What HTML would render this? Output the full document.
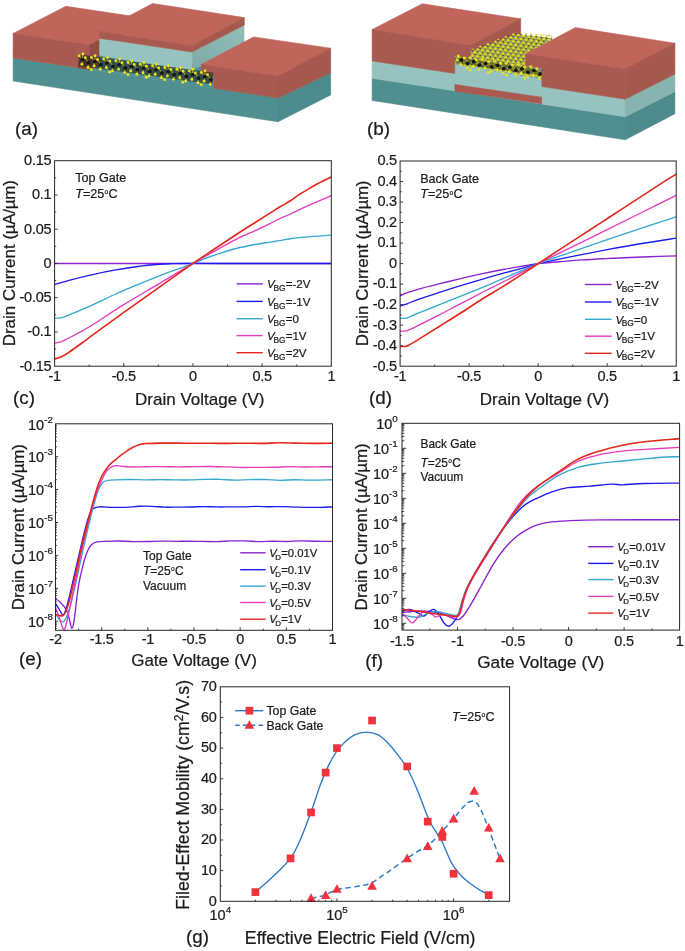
<!DOCTYPE html>
<html lang="en">
<head>
<meta charset="utf-8">
<title>Top-gate and back-gate MoS2 transistor characteristics</title>
<style>
html,body{margin:0;padding:0;background:#fff;}
body{width:685px;height:951px;overflow:hidden;}
svg{display:block;font-family:'Liberation Sans', Arial, Helvetica, sans-serif;filter:blur(0.3px);}
svg text{white-space:pre;stroke:#1a1a1a;stroke-width:.22px;stroke-linejoin:round;}
</style>
</head>
<body>
<svg width="685" height="951" viewBox="0 0 685 951" role="img" aria-label="Device schematics and electrical characteristics of top-gate and back-gate transistors">
<rect width="685" height="951" fill="#ffffff"/>
<g id="schem-a">
<polygon points="13.1,57.9 278,97.9 278,121.8 13.1,81" fill="#4f8f90" stroke="#4f8f90" stroke-width="0.6" stroke-linejoin="round" />
<polygon points="278,97.9 330.7,72.8 330.7,94.9 278,121.8" fill="#4c8a8b" stroke="#4c8a8b" stroke-width="0.6" stroke-linejoin="round" />
<polygon points="78,67.6 213.6,88.2 213.6,68 78,50" fill="#4f8f90" stroke="#4f8f90" stroke-width="0.6" stroke-linejoin="round" />
<polygon points="13.1,33.4 65.8,6.3 152.6,19.3 99.7,46.6" fill="#bf655a" stroke="#bf655a" stroke-width="0.6" stroke-linejoin="round" />
<polygon points="13.1,33.4 89.9,45.1 89.9,69.4 13.1,57.9" fill="#a95a50" stroke="#a95a50" stroke-width="0.6" stroke-linejoin="round" />
<polygon points="89.9,45.1 99.7,39.9 99.7,66 89.9,69.4" fill="#934c44" stroke="#934c44" stroke-width="0.6" stroke-linejoin="round" />
<polygon points="78.4,55.2 89.9,56.8 89.9,69.4 78.4,67.7" fill="#7d4139" stroke="#7d4139" stroke-width="0.6" stroke-linejoin="round" />
<polygon points="99.7,38.2 192.1,52 192.1,70.6 99.7,55.6" fill="#96c3bf" stroke="#96c3bf" stroke-width="0.6" stroke-linejoin="round" />
<linearGradient id="gds" x1="0" y1="1" x2="1" y2="0"><stop offset="0" stop-color="#7ea8a4"/><stop offset="1" stop-color="#93bfbb"/></linearGradient>
<polygon points="192.1,52 244.3,25.1 244.3,43 192.1,70.6" fill="url(#gds)" />
<polygon points="99.7,31.4 152.6,3.5 244.3,17.6 192.1,45.7" fill="#bf655a" stroke="#bf655a" stroke-width="0.6" stroke-linejoin="round" />
<polygon points="99.7,31.4 192.1,45.7 192.1,52 99.7,38.2" fill="#a95a50" stroke="#a95a50" stroke-width="0.6" stroke-linejoin="round" />
<polygon points="192.1,45.7 244.3,17.6 244.3,25.1 192.1,52" fill="#a5584e" stroke="#a5584e" stroke-width="0.6" stroke-linejoin="round" />
<polygon points="201.4,64.4 253.6,36.9 330.7,48.2 278,76.1" fill="#bf655a" stroke="#bf655a" stroke-width="0.6" stroke-linejoin="round" />
<polygon points="201.4,64.4 278,76.1 278,97.9 213.6,88.2 213.6,75.4 201.4,73.6" fill="#a95a50" stroke="#a95a50" stroke-width="0.6" stroke-linejoin="round" />
<polygon points="278,76.1 330.7,48.2 330.7,72.8 278,97.9" fill="#a5584e" stroke="#a5584e" stroke-width="0.6" stroke-linejoin="round" />
<path d="M79.5 60.09L212.8 78.48" stroke="#262a1c" stroke-width="11.5" opacity="0.62" fill="none"/>
<path d="M79.2 55.7L82.5 59.7L81.9 64.3M82.9 54L82.5 59.7M85.31 57.74L88.61 62.94L88.01 67.54M88.01 67.54L91.31 69.64M91.42 57.39L94.72 61.39L94.12 65.99M95.12 55.69L94.72 61.39M97.53 59.43L100.83 64.63L100.23 69.23M103.64 59.07L106.94 63.07L106.34 67.67M107.34 57.37L106.94 63.07M106.34 67.67L109.64 72.17M109.75 61.11L113.05 66.31L112.45 70.91M115.86 60.76L119.16 64.76L118.56 69.36M119.56 59.06L119.16 64.76M121.97 62.8L125.27 68L124.67 72.6M124.67 72.6L127.97 74.7M128.08 62.44L131.38 66.44L130.78 71.04M131.78 60.74L131.38 66.44M134.19 64.49L137.49 69.69L136.89 74.29M140.3 64.13L143.6 68.13L143 72.73M144 62.43L143.6 68.13M143 72.73L146.3 77.23M146.4 66.17L149.7 71.37L149.1 75.97M152.51 65.81L155.81 69.81L155.21 74.41M156.21 64.11L155.81 69.81M158.62 67.86L161.92 73.06L161.32 77.66M161.32 77.66L164.62 79.76M164.73 67.5L168.03 71.5L167.43 76.1M168.43 65.8L168.03 71.5M170.84 69.54L174.14 74.74L173.54 79.34M176.95 69.19L180.25 73.19L179.65 77.79M180.65 67.49L180.25 73.19M179.65 77.79L182.95 82.29M183.06 71.23L186.36 76.43L185.76 81.03M189.17 70.87L192.47 74.87L191.87 79.47M192.87 69.17L192.47 74.87M195.28 72.91L198.58 78.11L197.98 82.71M197.98 82.71L201.28 84.81M201.39 72.56L204.69 76.56L204.09 81.16M205.09 70.86L204.69 76.56M207.5 74.6L210.8 79.8L210.2 84.4" stroke="#b9b420" stroke-width="0.9" fill="none"/>
<g fill="#161616"><circle cx="82.5" cy="59.7" r="1.9"/><circle cx="88.61" cy="62.94" r="1.9"/><circle cx="94.72" cy="61.39" r="1.9"/><circle cx="100.83" cy="64.63" r="1.9"/><circle cx="106.94" cy="63.07" r="1.9"/><circle cx="113.05" cy="66.31" r="1.9"/><circle cx="119.16" cy="64.76" r="1.9"/><circle cx="125.27" cy="68" r="1.9"/><circle cx="131.38" cy="66.44" r="1.9"/><circle cx="137.49" cy="69.69" r="1.9"/><circle cx="143.6" cy="68.13" r="1.9"/><circle cx="149.7" cy="71.37" r="1.9"/><circle cx="155.81" cy="69.81" r="1.9"/><circle cx="161.92" cy="73.06" r="1.9"/><circle cx="168.03" cy="71.5" r="1.9"/><circle cx="174.14" cy="74.74" r="1.9"/><circle cx="180.25" cy="73.19" r="1.9"/><circle cx="186.36" cy="76.43" r="1.9"/><circle cx="192.47" cy="74.87" r="1.9"/><circle cx="198.58" cy="78.11" r="1.9"/><circle cx="204.69" cy="76.56" r="1.9"/><circle cx="210.8" cy="79.8" r="1.9"/></g>
<g fill="#e8e224"><circle cx="79.2" cy="55.7" r="1.45"/><circle cx="81.9" cy="64.3" r="1.45"/><circle cx="82.9" cy="54" r="1.45"/><circle cx="85.31" cy="57.74" r="1.45"/><circle cx="88.01" cy="67.54" r="1.45"/><circle cx="91.31" cy="69.64" r="1.45"/><circle cx="91.42" cy="57.39" r="1.45"/><circle cx="94.12" cy="65.99" r="1.45"/><circle cx="95.12" cy="55.69" r="1.45"/><circle cx="97.53" cy="59.43" r="1.45"/><circle cx="100.23" cy="69.23" r="1.45"/><circle cx="103.64" cy="59.07" r="1.45"/><circle cx="106.34" cy="67.67" r="1.45"/><circle cx="107.34" cy="57.37" r="1.45"/><circle cx="109.64" cy="72.17" r="1.45"/><circle cx="109.75" cy="61.11" r="1.45"/><circle cx="112.45" cy="70.91" r="1.45"/><circle cx="115.86" cy="60.76" r="1.45"/><circle cx="118.56" cy="69.36" r="1.45"/><circle cx="119.56" cy="59.06" r="1.45"/><circle cx="121.97" cy="62.8" r="1.45"/><circle cx="124.67" cy="72.6" r="1.45"/><circle cx="127.97" cy="74.7" r="1.45"/><circle cx="128.08" cy="62.44" r="1.45"/><circle cx="130.78" cy="71.04" r="1.45"/><circle cx="131.78" cy="60.74" r="1.45"/><circle cx="134.19" cy="64.49" r="1.45"/><circle cx="136.89" cy="74.29" r="1.45"/><circle cx="140.3" cy="64.13" r="1.45"/><circle cx="143" cy="72.73" r="1.45"/><circle cx="144" cy="62.43" r="1.45"/><circle cx="146.3" cy="77.23" r="1.45"/><circle cx="146.4" cy="66.17" r="1.45"/><circle cx="149.1" cy="75.97" r="1.45"/><circle cx="152.51" cy="65.81" r="1.45"/><circle cx="155.21" cy="74.41" r="1.45"/><circle cx="156.21" cy="64.11" r="1.45"/><circle cx="158.62" cy="67.86" r="1.45"/><circle cx="161.32" cy="77.66" r="1.45"/><circle cx="164.62" cy="79.76" r="1.45"/><circle cx="164.73" cy="67.5" r="1.45"/><circle cx="167.43" cy="76.1" r="1.45"/><circle cx="168.43" cy="65.8" r="1.45"/><circle cx="170.84" cy="69.54" r="1.45"/><circle cx="173.54" cy="79.34" r="1.45"/><circle cx="176.95" cy="69.19" r="1.45"/><circle cx="179.65" cy="77.79" r="1.45"/><circle cx="180.65" cy="67.49" r="1.45"/><circle cx="182.95" cy="82.29" r="1.45"/><circle cx="183.06" cy="71.23" r="1.45"/><circle cx="185.76" cy="81.03" r="1.45"/><circle cx="189.17" cy="70.87" r="1.45"/><circle cx="191.87" cy="79.47" r="1.45"/><circle cx="192.87" cy="69.17" r="1.45"/><circle cx="195.28" cy="72.91" r="1.45"/><circle cx="197.98" cy="82.71" r="1.45"/><circle cx="201.28" cy="84.81" r="1.45"/><circle cx="201.39" cy="72.56" r="1.45"/><circle cx="204.09" cy="81.16" r="1.45"/><circle cx="205.09" cy="70.86" r="1.45"/><circle cx="207.5" cy="74.6" r="1.45"/><circle cx="210.2" cy="84.4" r="1.45"/></g>
</g>
<g id="schem-b">
<polygon points="372.1,78.3 625.2,116.7 625.2,139.8 372.1,100.4" fill="#4f8f90" stroke="#4f8f90" stroke-width="0.6" stroke-linejoin="round" />
<polygon points="625.2,116.7 674.9,91.6 674.9,113.8 625.2,139.8" fill="#4c8a8b" stroke="#4c8a8b" stroke-width="0.6" stroke-linejoin="round" />
<polygon points="372.1,61 454.7,73.4 454.7,62 541.9,75.2 541.9,86.6 625.2,99.2 625.2,116.7 372.1,78.3" fill="#96c3bf" stroke="#96c3bf" stroke-width="0.6" stroke-linejoin="round" />
<polygon points="454.7,62 520,37 600,45 541.9,75.2" fill="#a3cfca" stroke="#a3cfca" stroke-width="0.6" stroke-linejoin="round" />
<polygon points="625.2,99.2 674.9,74.1 674.9,91.6 625.2,116.7" fill="#89b3af" stroke="#89b3af" stroke-width="0.6" stroke-linejoin="round" />
<polygon points="454.9,84.6 541.6,97.2 541.6,103.8 454.9,91.2" fill="#a95a50" stroke="#a95a50" stroke-width="0.6" stroke-linejoin="round" />
<polygon points="372.1,29.6 422.3,3.8 520.7,18.8 470.5,45.2" fill="#bf655a" stroke="#bf655a" stroke-width="0.6" stroke-linejoin="round" />
<polygon points="470.5,45.2 520.7,18.8 520.7,36 470.5,60" fill="#a5584e" stroke="#a5584e" stroke-width="0.6" stroke-linejoin="round" />
<polygon points="454.7,55.5 470.5,57.5 470.5,66 454.7,63.5" fill="#7a4038" stroke="#7a4038" stroke-width="0.6" stroke-linejoin="round" />
<polygon points="455.6,57 516.5,34.6 549,37.6 552,39.2 525.6,54 525.6,66 541.8,72.4 541.8,78 455,63.5" fill="#a0a34c" />
<clipPath id="shb"><polygon points="455,55.6 516,32.2 551,35.2 555,38.2 525.6,54 525.6,66 541.8,72.4 541.8,79 455,64.5"/></clipPath>
<g clip-path="url(#shb)">
<g fill="#3a4048"><circle cx="457.2" cy="69.05" r="0.75"/><circle cx="462.3" cy="69.85" r="0.75"/><circle cx="467.4" cy="70.65" r="0.75"/><circle cx="472.5" cy="71.45" r="0.75"/><circle cx="477.6" cy="72.25" r="0.75"/><circle cx="482.7" cy="73.05" r="0.75"/><circle cx="487.8" cy="73.85" r="0.75"/><circle cx="492.9" cy="74.65" r="0.75"/><circle cx="498" cy="75.45" r="0.75"/><circle cx="503.1" cy="76.25" r="0.75"/><circle cx="508.2" cy="77.05" r="0.75"/><circle cx="513.3" cy="77.85" r="0.75"/><circle cx="518.4" cy="78.65" r="0.75"/><circle cx="523.5" cy="79.45" r="0.75"/><circle cx="528.6" cy="80.25" r="0.75"/><circle cx="533.7" cy="81.05" r="0.75"/><circle cx="538.8" cy="81.85" r="0.75"/><circle cx="543.9" cy="82.65" r="0.75"/><circle cx="454.65" cy="65.2" r="0.75"/><circle cx="459.75" cy="66" r="0.75"/><circle cx="464.85" cy="66.8" r="0.75"/><circle cx="469.95" cy="67.6" r="0.75"/><circle cx="475.05" cy="68.4" r="0.75"/><circle cx="480.15" cy="69.2" r="0.75"/><circle cx="485.25" cy="70" r="0.75"/><circle cx="490.35" cy="70.8" r="0.75"/><circle cx="495.45" cy="71.6" r="0.75"/><circle cx="500.55" cy="72.4" r="0.75"/><circle cx="505.65" cy="73.2" r="0.75"/><circle cx="510.75" cy="74" r="0.75"/><circle cx="515.85" cy="74.8" r="0.75"/><circle cx="520.95" cy="75.6" r="0.75"/><circle cx="526.05" cy="76.4" r="0.75"/><circle cx="531.15" cy="77.2" r="0.75"/><circle cx="536.25" cy="78" r="0.75"/><circle cx="541.35" cy="78.8" r="0.75"/><circle cx="546.45" cy="79.6" r="0.75"/><circle cx="551.55" cy="80.4" r="0.75"/><circle cx="556.65" cy="81.2" r="0.75"/><circle cx="457.2" cy="62.15" r="0.75"/><circle cx="462.3" cy="62.95" r="0.75"/><circle cx="467.4" cy="63.75" r="0.75"/><circle cx="472.5" cy="64.55" r="0.75"/><circle cx="477.6" cy="65.35" r="0.75"/><circle cx="482.7" cy="66.15" r="0.75"/><circle cx="487.8" cy="66.95" r="0.75"/><circle cx="492.9" cy="67.75" r="0.75"/><circle cx="498" cy="68.55" r="0.75"/><circle cx="503.1" cy="69.35" r="0.75"/><circle cx="508.2" cy="70.15" r="0.75"/><circle cx="513.3" cy="70.95" r="0.75"/><circle cx="518.4" cy="71.75" r="0.75"/><circle cx="523.5" cy="72.55" r="0.75"/><circle cx="528.6" cy="73.35" r="0.75"/><circle cx="533.7" cy="74.15" r="0.75"/><circle cx="538.8" cy="74.95" r="0.75"/><circle cx="543.9" cy="75.75" r="0.75"/><circle cx="549" cy="76.55" r="0.75"/><circle cx="554.1" cy="77.35" r="0.75"/><circle cx="559.2" cy="78.15" r="0.75"/><circle cx="454.65" cy="58.3" r="0.75"/><circle cx="459.75" cy="59.1" r="0.75"/><circle cx="464.85" cy="59.9" r="0.75"/><circle cx="469.95" cy="60.7" r="0.75"/><circle cx="475.05" cy="61.5" r="0.75"/><circle cx="480.15" cy="62.3" r="0.75"/><circle cx="485.25" cy="63.1" r="0.75"/><circle cx="490.35" cy="63.9" r="0.75"/><circle cx="495.45" cy="64.7" r="0.75"/><circle cx="500.55" cy="65.5" r="0.75"/><circle cx="505.65" cy="66.3" r="0.75"/><circle cx="510.75" cy="67.1" r="0.75"/><circle cx="515.85" cy="67.9" r="0.75"/><circle cx="520.95" cy="68.7" r="0.75"/><circle cx="526.05" cy="69.5" r="0.75"/><circle cx="531.15" cy="70.3" r="0.75"/><circle cx="536.25" cy="71.1" r="0.75"/><circle cx="541.35" cy="71.9" r="0.75"/><circle cx="546.45" cy="72.7" r="0.75"/><circle cx="551.55" cy="73.5" r="0.75"/><circle cx="556.65" cy="74.3" r="0.75"/><circle cx="457.2" cy="55.25" r="0.75"/><circle cx="462.3" cy="56.05" r="0.75"/><circle cx="467.4" cy="56.85" r="0.75"/><circle cx="472.5" cy="57.65" r="0.75"/><circle cx="477.6" cy="58.45" r="0.75"/><circle cx="482.7" cy="59.25" r="0.75"/><circle cx="487.8" cy="60.05" r="0.75"/><circle cx="492.9" cy="60.85" r="0.75"/><circle cx="498" cy="61.65" r="0.75"/><circle cx="503.1" cy="62.45" r="0.75"/><circle cx="508.2" cy="63.25" r="0.75"/><circle cx="513.3" cy="64.05" r="0.75"/><circle cx="518.4" cy="64.85" r="0.75"/><circle cx="523.5" cy="65.65" r="0.75"/><circle cx="528.6" cy="66.45" r="0.75"/><circle cx="533.7" cy="67.25" r="0.75"/><circle cx="538.8" cy="68.05" r="0.75"/><circle cx="543.9" cy="68.85" r="0.75"/><circle cx="549" cy="69.65" r="0.75"/><circle cx="554.1" cy="70.45" r="0.75"/><circle cx="559.2" cy="71.25" r="0.75"/><circle cx="454.65" cy="51.4" r="0.75"/><circle cx="459.75" cy="52.2" r="0.75"/><circle cx="464.85" cy="53" r="0.75"/><circle cx="469.95" cy="53.8" r="0.75"/><circle cx="475.05" cy="54.6" r="0.75"/><circle cx="480.15" cy="55.4" r="0.75"/><circle cx="485.25" cy="56.2" r="0.75"/><circle cx="490.35" cy="57" r="0.75"/><circle cx="495.45" cy="57.8" r="0.75"/><circle cx="500.55" cy="58.6" r="0.75"/><circle cx="505.65" cy="59.4" r="0.75"/><circle cx="510.75" cy="60.2" r="0.75"/><circle cx="515.85" cy="61" r="0.75"/><circle cx="520.95" cy="61.8" r="0.75"/><circle cx="526.05" cy="62.6" r="0.75"/><circle cx="531.15" cy="63.4" r="0.75"/><circle cx="536.25" cy="64.2" r="0.75"/><circle cx="541.35" cy="65" r="0.75"/><circle cx="546.45" cy="65.8" r="0.75"/><circle cx="551.55" cy="66.6" r="0.75"/><circle cx="556.65" cy="67.4" r="0.75"/><circle cx="457.2" cy="48.35" r="0.75"/><circle cx="462.3" cy="49.15" r="0.75"/><circle cx="467.4" cy="49.95" r="0.75"/><circle cx="472.5" cy="50.75" r="0.75"/><circle cx="477.6" cy="51.55" r="0.75"/><circle cx="482.7" cy="52.35" r="0.75"/><circle cx="487.8" cy="53.15" r="0.75"/><circle cx="492.9" cy="53.95" r="0.75"/><circle cx="498" cy="54.75" r="0.75"/><circle cx="503.1" cy="55.55" r="0.75"/><circle cx="508.2" cy="56.35" r="0.75"/><circle cx="513.3" cy="57.15" r="0.75"/><circle cx="518.4" cy="57.95" r="0.75"/><circle cx="523.5" cy="58.75" r="0.75"/><circle cx="528.6" cy="59.55" r="0.75"/><circle cx="533.7" cy="60.35" r="0.75"/><circle cx="538.8" cy="61.15" r="0.75"/><circle cx="543.9" cy="61.95" r="0.75"/><circle cx="549" cy="62.75" r="0.75"/><circle cx="554.1" cy="63.55" r="0.75"/><circle cx="559.2" cy="64.35" r="0.75"/><circle cx="454.65" cy="44.5" r="0.75"/><circle cx="459.75" cy="45.3" r="0.75"/><circle cx="464.85" cy="46.1" r="0.75"/><circle cx="469.95" cy="46.9" r="0.75"/><circle cx="475.05" cy="47.7" r="0.75"/><circle cx="480.15" cy="48.5" r="0.75"/><circle cx="485.25" cy="49.3" r="0.75"/><circle cx="490.35" cy="50.1" r="0.75"/><circle cx="495.45" cy="50.9" r="0.75"/><circle cx="500.55" cy="51.7" r="0.75"/><circle cx="505.65" cy="52.5" r="0.75"/><circle cx="510.75" cy="53.3" r="0.75"/><circle cx="515.85" cy="54.1" r="0.75"/><circle cx="520.95" cy="54.9" r="0.75"/><circle cx="526.05" cy="55.7" r="0.75"/><circle cx="531.15" cy="56.5" r="0.75"/><circle cx="536.25" cy="57.3" r="0.75"/><circle cx="541.35" cy="58.1" r="0.75"/><circle cx="546.45" cy="58.9" r="0.75"/><circle cx="551.55" cy="59.7" r="0.75"/><circle cx="556.65" cy="60.5" r="0.75"/><circle cx="457.2" cy="41.45" r="0.75"/><circle cx="462.3" cy="42.25" r="0.75"/><circle cx="467.4" cy="43.05" r="0.75"/><circle cx="472.5" cy="43.85" r="0.75"/><circle cx="477.6" cy="44.65" r="0.75"/><circle cx="482.7" cy="45.45" r="0.75"/><circle cx="487.8" cy="46.25" r="0.75"/><circle cx="492.9" cy="47.05" r="0.75"/><circle cx="498" cy="47.85" r="0.75"/><circle cx="503.1" cy="48.65" r="0.75"/><circle cx="508.2" cy="49.45" r="0.75"/><circle cx="513.3" cy="50.25" r="0.75"/><circle cx="518.4" cy="51.05" r="0.75"/><circle cx="523.5" cy="51.85" r="0.75"/><circle cx="528.6" cy="52.65" r="0.75"/><circle cx="533.7" cy="53.45" r="0.75"/><circle cx="538.8" cy="54.25" r="0.75"/><circle cx="543.9" cy="55.05" r="0.75"/><circle cx="549" cy="55.85" r="0.75"/><circle cx="554.1" cy="56.65" r="0.75"/><circle cx="559.2" cy="57.45" r="0.75"/><circle cx="454.65" cy="37.6" r="0.75"/><circle cx="459.75" cy="38.4" r="0.75"/><circle cx="464.85" cy="39.2" r="0.75"/><circle cx="469.95" cy="40" r="0.75"/><circle cx="475.05" cy="40.8" r="0.75"/><circle cx="480.15" cy="41.6" r="0.75"/><circle cx="485.25" cy="42.4" r="0.75"/><circle cx="490.35" cy="43.2" r="0.75"/><circle cx="495.45" cy="44" r="0.75"/><circle cx="500.55" cy="44.8" r="0.75"/><circle cx="505.65" cy="45.6" r="0.75"/><circle cx="510.75" cy="46.4" r="0.75"/><circle cx="515.85" cy="47.2" r="0.75"/><circle cx="520.95" cy="48" r="0.75"/><circle cx="526.05" cy="48.8" r="0.75"/><circle cx="531.15" cy="49.6" r="0.75"/><circle cx="536.25" cy="50.4" r="0.75"/><circle cx="541.35" cy="51.2" r="0.75"/><circle cx="546.45" cy="52" r="0.75"/><circle cx="551.55" cy="52.8" r="0.75"/><circle cx="556.65" cy="53.6" r="0.75"/><circle cx="457.2" cy="34.55" r="0.75"/><circle cx="462.3" cy="35.35" r="0.75"/><circle cx="467.4" cy="36.15" r="0.75"/><circle cx="472.5" cy="36.95" r="0.75"/><circle cx="477.6" cy="37.75" r="0.75"/><circle cx="482.7" cy="38.55" r="0.75"/><circle cx="487.8" cy="39.35" r="0.75"/><circle cx="492.9" cy="40.15" r="0.75"/><circle cx="498" cy="40.95" r="0.75"/><circle cx="503.1" cy="41.75" r="0.75"/><circle cx="508.2" cy="42.55" r="0.75"/><circle cx="513.3" cy="43.35" r="0.75"/><circle cx="518.4" cy="44.15" r="0.75"/><circle cx="523.5" cy="44.95" r="0.75"/><circle cx="528.6" cy="45.75" r="0.75"/><circle cx="533.7" cy="46.55" r="0.75"/><circle cx="538.8" cy="47.35" r="0.75"/><circle cx="543.9" cy="48.15" r="0.75"/><circle cx="549" cy="48.95" r="0.75"/><circle cx="554.1" cy="49.75" r="0.75"/><circle cx="559.2" cy="50.55" r="0.75"/><circle cx="454.65" cy="30.7" r="0.75"/><circle cx="459.75" cy="31.5" r="0.75"/><circle cx="464.85" cy="32.3" r="0.75"/><circle cx="469.95" cy="33.1" r="0.75"/><circle cx="475.05" cy="33.9" r="0.75"/><circle cx="480.15" cy="34.7" r="0.75"/><circle cx="485.25" cy="35.5" r="0.75"/><circle cx="490.35" cy="36.3" r="0.75"/><circle cx="495.45" cy="37.1" r="0.75"/><circle cx="500.55" cy="37.9" r="0.75"/><circle cx="505.65" cy="38.7" r="0.75"/><circle cx="510.75" cy="39.5" r="0.75"/><circle cx="515.85" cy="40.3" r="0.75"/><circle cx="520.95" cy="41.1" r="0.75"/><circle cx="526.05" cy="41.9" r="0.75"/><circle cx="531.15" cy="42.7" r="0.75"/><circle cx="536.25" cy="43.5" r="0.75"/><circle cx="541.35" cy="44.3" r="0.75"/><circle cx="546.45" cy="45.1" r="0.75"/><circle cx="551.55" cy="45.9" r="0.75"/><circle cx="556.65" cy="46.7" r="0.75"/><circle cx="467.4" cy="29.25" r="0.75"/><circle cx="472.5" cy="30.05" r="0.75"/><circle cx="477.6" cy="30.85" r="0.75"/><circle cx="482.7" cy="31.65" r="0.75"/><circle cx="487.8" cy="32.45" r="0.75"/><circle cx="492.9" cy="33.25" r="0.75"/><circle cx="498" cy="34.05" r="0.75"/><circle cx="503.1" cy="34.85" r="0.75"/><circle cx="508.2" cy="35.65" r="0.75"/><circle cx="513.3" cy="36.45" r="0.75"/><circle cx="518.4" cy="37.25" r="0.75"/><circle cx="523.5" cy="38.05" r="0.75"/><circle cx="528.6" cy="38.85" r="0.75"/><circle cx="533.7" cy="39.65" r="0.75"/><circle cx="538.8" cy="40.45" r="0.75"/><circle cx="543.9" cy="41.25" r="0.75"/><circle cx="549" cy="42.05" r="0.75"/><circle cx="554.1" cy="42.85" r="0.75"/><circle cx="559.2" cy="43.65" r="0.75"/><circle cx="490.35" cy="29.4" r="0.75"/><circle cx="495.45" cy="30.2" r="0.75"/><circle cx="500.55" cy="31" r="0.75"/><circle cx="505.65" cy="31.8" r="0.75"/><circle cx="510.75" cy="32.6" r="0.75"/><circle cx="515.85" cy="33.4" r="0.75"/><circle cx="520.95" cy="34.2" r="0.75"/><circle cx="526.05" cy="35" r="0.75"/><circle cx="531.15" cy="35.8" r="0.75"/><circle cx="536.25" cy="36.6" r="0.75"/><circle cx="541.35" cy="37.4" r="0.75"/><circle cx="546.45" cy="38.2" r="0.75"/><circle cx="551.55" cy="39" r="0.75"/><circle cx="556.65" cy="39.8" r="0.75"/><circle cx="513.3" cy="29.55" r="0.75"/><circle cx="518.4" cy="30.35" r="0.75"/><circle cx="523.5" cy="31.15" r="0.75"/><circle cx="528.6" cy="31.95" r="0.75"/><circle cx="533.7" cy="32.75" r="0.75"/><circle cx="538.8" cy="33.55" r="0.75"/><circle cx="543.9" cy="34.35" r="0.75"/><circle cx="549" cy="35.15" r="0.75"/><circle cx="554.1" cy="35.95" r="0.75"/><circle cx="559.2" cy="36.75" r="0.75"/><circle cx="536.25" cy="29.7" r="0.75"/><circle cx="541.35" cy="30.5" r="0.75"/><circle cx="546.45" cy="31.3" r="0.75"/><circle cx="551.55" cy="32.1" r="0.75"/><circle cx="556.65" cy="32.9" r="0.75"/><circle cx="559.2" cy="29.85" r="0.75"/></g>
<g fill="#dfdb28"><circle cx="454.65" cy="69.95" r="1.25"/><circle cx="459.75" cy="70.75" r="1.25"/><circle cx="464.85" cy="71.55" r="1.25"/><circle cx="469.95" cy="72.35" r="1.25"/><circle cx="475.05" cy="73.15" r="1.25"/><circle cx="480.15" cy="73.95" r="1.25"/><circle cx="485.25" cy="74.75" r="1.25"/><circle cx="490.35" cy="75.55" r="1.25"/><circle cx="495.45" cy="76.35" r="1.25"/><circle cx="500.55" cy="77.15" r="1.25"/><circle cx="505.65" cy="77.95" r="1.25"/><circle cx="510.75" cy="78.75" r="1.25"/><circle cx="515.85" cy="79.55" r="1.25"/><circle cx="520.95" cy="80.35" r="1.25"/><circle cx="526.05" cy="81.15" r="1.25"/><circle cx="531.15" cy="81.95" r="1.25"/><circle cx="536.25" cy="82.75" r="1.25"/><circle cx="541.35" cy="83.55" r="1.25"/><circle cx="452.1" cy="66.1" r="1.25"/><circle cx="457.2" cy="66.9" r="1.25"/><circle cx="462.3" cy="67.7" r="1.25"/><circle cx="467.4" cy="68.5" r="1.25"/><circle cx="472.5" cy="69.3" r="1.25"/><circle cx="477.6" cy="70.1" r="1.25"/><circle cx="482.7" cy="70.9" r="1.25"/><circle cx="487.8" cy="71.7" r="1.25"/><circle cx="492.9" cy="72.5" r="1.25"/><circle cx="498" cy="73.3" r="1.25"/><circle cx="503.1" cy="74.1" r="1.25"/><circle cx="508.2" cy="74.9" r="1.25"/><circle cx="513.3" cy="75.7" r="1.25"/><circle cx="518.4" cy="76.5" r="1.25"/><circle cx="523.5" cy="77.3" r="1.25"/><circle cx="528.6" cy="78.1" r="1.25"/><circle cx="533.7" cy="78.9" r="1.25"/><circle cx="538.8" cy="79.7" r="1.25"/><circle cx="543.9" cy="80.5" r="1.25"/><circle cx="549" cy="81.3" r="1.25"/><circle cx="554.1" cy="82.1" r="1.25"/><circle cx="454.65" cy="63.05" r="1.25"/><circle cx="459.75" cy="63.85" r="1.25"/><circle cx="464.85" cy="64.65" r="1.25"/><circle cx="469.95" cy="65.45" r="1.25"/><circle cx="475.05" cy="66.25" r="1.25"/><circle cx="480.15" cy="67.05" r="1.25"/><circle cx="485.25" cy="67.85" r="1.25"/><circle cx="490.35" cy="68.65" r="1.25"/><circle cx="495.45" cy="69.45" r="1.25"/><circle cx="500.55" cy="70.25" r="1.25"/><circle cx="505.65" cy="71.05" r="1.25"/><circle cx="510.75" cy="71.85" r="1.25"/><circle cx="515.85" cy="72.65" r="1.25"/><circle cx="520.95" cy="73.45" r="1.25"/><circle cx="526.05" cy="74.25" r="1.25"/><circle cx="531.15" cy="75.05" r="1.25"/><circle cx="536.25" cy="75.85" r="1.25"/><circle cx="541.35" cy="76.65" r="1.25"/><circle cx="546.45" cy="77.45" r="1.25"/><circle cx="551.55" cy="78.25" r="1.25"/><circle cx="556.65" cy="79.05" r="1.25"/><circle cx="452.1" cy="59.2" r="1.25"/><circle cx="457.2" cy="60" r="1.25"/><circle cx="462.3" cy="60.8" r="1.25"/><circle cx="467.4" cy="61.6" r="1.25"/><circle cx="472.5" cy="62.4" r="1.25"/><circle cx="477.6" cy="63.2" r="1.25"/><circle cx="482.7" cy="64" r="1.25"/><circle cx="487.8" cy="64.8" r="1.25"/><circle cx="492.9" cy="65.6" r="1.25"/><circle cx="498" cy="66.4" r="1.25"/><circle cx="503.1" cy="67.2" r="1.25"/><circle cx="508.2" cy="68" r="1.25"/><circle cx="513.3" cy="68.8" r="1.25"/><circle cx="518.4" cy="69.6" r="1.25"/><circle cx="523.5" cy="70.4" r="1.25"/><circle cx="528.6" cy="71.2" r="1.25"/><circle cx="533.7" cy="72" r="1.25"/><circle cx="538.8" cy="72.8" r="1.25"/><circle cx="543.9" cy="73.6" r="1.25"/><circle cx="549" cy="74.4" r="1.25"/><circle cx="554.1" cy="75.2" r="1.25"/><circle cx="454.65" cy="56.15" r="1.25"/><circle cx="459.75" cy="56.95" r="1.25"/><circle cx="464.85" cy="57.75" r="1.25"/><circle cx="469.95" cy="58.55" r="1.25"/><circle cx="475.05" cy="59.35" r="1.25"/><circle cx="480.15" cy="60.15" r="1.25"/><circle cx="485.25" cy="60.95" r="1.25"/><circle cx="490.35" cy="61.75" r="1.25"/><circle cx="495.45" cy="62.55" r="1.25"/><circle cx="500.55" cy="63.35" r="1.25"/><circle cx="505.65" cy="64.15" r="1.25"/><circle cx="510.75" cy="64.95" r="1.25"/><circle cx="515.85" cy="65.75" r="1.25"/><circle cx="520.95" cy="66.55" r="1.25"/><circle cx="526.05" cy="67.35" r="1.25"/><circle cx="531.15" cy="68.15" r="1.25"/><circle cx="536.25" cy="68.95" r="1.25"/><circle cx="541.35" cy="69.75" r="1.25"/><circle cx="546.45" cy="70.55" r="1.25"/><circle cx="551.55" cy="71.35" r="1.25"/><circle cx="556.65" cy="72.15" r="1.25"/><circle cx="452.1" cy="52.3" r="1.25"/><circle cx="457.2" cy="53.1" r="1.25"/><circle cx="462.3" cy="53.9" r="1.25"/><circle cx="467.4" cy="54.7" r="1.25"/><circle cx="472.5" cy="55.5" r="1.25"/><circle cx="477.6" cy="56.3" r="1.25"/><circle cx="482.7" cy="57.1" r="1.25"/><circle cx="487.8" cy="57.9" r="1.25"/><circle cx="492.9" cy="58.7" r="1.25"/><circle cx="498" cy="59.5" r="1.25"/><circle cx="503.1" cy="60.3" r="1.25"/><circle cx="508.2" cy="61.1" r="1.25"/><circle cx="513.3" cy="61.9" r="1.25"/><circle cx="518.4" cy="62.7" r="1.25"/><circle cx="523.5" cy="63.5" r="1.25"/><circle cx="528.6" cy="64.3" r="1.25"/><circle cx="533.7" cy="65.1" r="1.25"/><circle cx="538.8" cy="65.9" r="1.25"/><circle cx="543.9" cy="66.7" r="1.25"/><circle cx="549" cy="67.5" r="1.25"/><circle cx="554.1" cy="68.3" r="1.25"/><circle cx="454.65" cy="49.25" r="1.25"/><circle cx="459.75" cy="50.05" r="1.25"/><circle cx="464.85" cy="50.85" r="1.25"/><circle cx="469.95" cy="51.65" r="1.25"/><circle cx="475.05" cy="52.45" r="1.25"/><circle cx="480.15" cy="53.25" r="1.25"/><circle cx="485.25" cy="54.05" r="1.25"/><circle cx="490.35" cy="54.85" r="1.25"/><circle cx="495.45" cy="55.65" r="1.25"/><circle cx="500.55" cy="56.45" r="1.25"/><circle cx="505.65" cy="57.25" r="1.25"/><circle cx="510.75" cy="58.05" r="1.25"/><circle cx="515.85" cy="58.85" r="1.25"/><circle cx="520.95" cy="59.65" r="1.25"/><circle cx="526.05" cy="60.45" r="1.25"/><circle cx="531.15" cy="61.25" r="1.25"/><circle cx="536.25" cy="62.05" r="1.25"/><circle cx="541.35" cy="62.85" r="1.25"/><circle cx="546.45" cy="63.65" r="1.25"/><circle cx="551.55" cy="64.45" r="1.25"/><circle cx="556.65" cy="65.25" r="1.25"/><circle cx="452.1" cy="45.4" r="1.25"/><circle cx="457.2" cy="46.2" r="1.25"/><circle cx="462.3" cy="47" r="1.25"/><circle cx="467.4" cy="47.8" r="1.25"/><circle cx="472.5" cy="48.6" r="1.25"/><circle cx="477.6" cy="49.4" r="1.25"/><circle cx="482.7" cy="50.2" r="1.25"/><circle cx="487.8" cy="51" r="1.25"/><circle cx="492.9" cy="51.8" r="1.25"/><circle cx="498" cy="52.6" r="1.25"/><circle cx="503.1" cy="53.4" r="1.25"/><circle cx="508.2" cy="54.2" r="1.25"/><circle cx="513.3" cy="55" r="1.25"/><circle cx="518.4" cy="55.8" r="1.25"/><circle cx="523.5" cy="56.6" r="1.25"/><circle cx="528.6" cy="57.4" r="1.25"/><circle cx="533.7" cy="58.2" r="1.25"/><circle cx="538.8" cy="59" r="1.25"/><circle cx="543.9" cy="59.8" r="1.25"/><circle cx="549" cy="60.6" r="1.25"/><circle cx="554.1" cy="61.4" r="1.25"/><circle cx="454.65" cy="42.35" r="1.25"/><circle cx="459.75" cy="43.15" r="1.25"/><circle cx="464.85" cy="43.95" r="1.25"/><circle cx="469.95" cy="44.75" r="1.25"/><circle cx="475.05" cy="45.55" r="1.25"/><circle cx="480.15" cy="46.35" r="1.25"/><circle cx="485.25" cy="47.15" r="1.25"/><circle cx="490.35" cy="47.95" r="1.25"/><circle cx="495.45" cy="48.75" r="1.25"/><circle cx="500.55" cy="49.55" r="1.25"/><circle cx="505.65" cy="50.35" r="1.25"/><circle cx="510.75" cy="51.15" r="1.25"/><circle cx="515.85" cy="51.95" r="1.25"/><circle cx="520.95" cy="52.75" r="1.25"/><circle cx="526.05" cy="53.55" r="1.25"/><circle cx="531.15" cy="54.35" r="1.25"/><circle cx="536.25" cy="55.15" r="1.25"/><circle cx="541.35" cy="55.95" r="1.25"/><circle cx="546.45" cy="56.75" r="1.25"/><circle cx="551.55" cy="57.55" r="1.25"/><circle cx="556.65" cy="58.35" r="1.25"/><circle cx="452.1" cy="38.5" r="1.25"/><circle cx="457.2" cy="39.3" r="1.25"/><circle cx="462.3" cy="40.1" r="1.25"/><circle cx="467.4" cy="40.9" r="1.25"/><circle cx="472.5" cy="41.7" r="1.25"/><circle cx="477.6" cy="42.5" r="1.25"/><circle cx="482.7" cy="43.3" r="1.25"/><circle cx="487.8" cy="44.1" r="1.25"/><circle cx="492.9" cy="44.9" r="1.25"/><circle cx="498" cy="45.7" r="1.25"/><circle cx="503.1" cy="46.5" r="1.25"/><circle cx="508.2" cy="47.3" r="1.25"/><circle cx="513.3" cy="48.1" r="1.25"/><circle cx="518.4" cy="48.9" r="1.25"/><circle cx="523.5" cy="49.7" r="1.25"/><circle cx="528.6" cy="50.5" r="1.25"/><circle cx="533.7" cy="51.3" r="1.25"/><circle cx="538.8" cy="52.1" r="1.25"/><circle cx="543.9" cy="52.9" r="1.25"/><circle cx="549" cy="53.7" r="1.25"/><circle cx="554.1" cy="54.5" r="1.25"/><circle cx="454.65" cy="35.45" r="1.25"/><circle cx="459.75" cy="36.25" r="1.25"/><circle cx="464.85" cy="37.05" r="1.25"/><circle cx="469.95" cy="37.85" r="1.25"/><circle cx="475.05" cy="38.65" r="1.25"/><circle cx="480.15" cy="39.45" r="1.25"/><circle cx="485.25" cy="40.25" r="1.25"/><circle cx="490.35" cy="41.05" r="1.25"/><circle cx="495.45" cy="41.85" r="1.25"/><circle cx="500.55" cy="42.65" r="1.25"/><circle cx="505.65" cy="43.45" r="1.25"/><circle cx="510.75" cy="44.25" r="1.25"/><circle cx="515.85" cy="45.05" r="1.25"/><circle cx="520.95" cy="45.85" r="1.25"/><circle cx="526.05" cy="46.65" r="1.25"/><circle cx="531.15" cy="47.45" r="1.25"/><circle cx="536.25" cy="48.25" r="1.25"/><circle cx="541.35" cy="49.05" r="1.25"/><circle cx="546.45" cy="49.85" r="1.25"/><circle cx="551.55" cy="50.65" r="1.25"/><circle cx="556.65" cy="51.45" r="1.25"/><circle cx="452.1" cy="31.6" r="1.25"/><circle cx="457.2" cy="32.4" r="1.25"/><circle cx="462.3" cy="33.2" r="1.25"/><circle cx="467.4" cy="34" r="1.25"/><circle cx="472.5" cy="34.8" r="1.25"/><circle cx="477.6" cy="35.6" r="1.25"/><circle cx="482.7" cy="36.4" r="1.25"/><circle cx="487.8" cy="37.2" r="1.25"/><circle cx="492.9" cy="38" r="1.25"/><circle cx="498" cy="38.8" r="1.25"/><circle cx="503.1" cy="39.6" r="1.25"/><circle cx="508.2" cy="40.4" r="1.25"/><circle cx="513.3" cy="41.2" r="1.25"/><circle cx="518.4" cy="42" r="1.25"/><circle cx="523.5" cy="42.8" r="1.25"/><circle cx="528.6" cy="43.6" r="1.25"/><circle cx="533.7" cy="44.4" r="1.25"/><circle cx="538.8" cy="45.2" r="1.25"/><circle cx="543.9" cy="46" r="1.25"/><circle cx="549" cy="46.8" r="1.25"/><circle cx="554.1" cy="47.6" r="1.25"/><circle cx="464.85" cy="30.15" r="1.25"/><circle cx="469.95" cy="30.95" r="1.25"/><circle cx="475.05" cy="31.75" r="1.25"/><circle cx="480.15" cy="32.55" r="1.25"/><circle cx="485.25" cy="33.35" r="1.25"/><circle cx="490.35" cy="34.15" r="1.25"/><circle cx="495.45" cy="34.95" r="1.25"/><circle cx="500.55" cy="35.75" r="1.25"/><circle cx="505.65" cy="36.55" r="1.25"/><circle cx="510.75" cy="37.35" r="1.25"/><circle cx="515.85" cy="38.15" r="1.25"/><circle cx="520.95" cy="38.95" r="1.25"/><circle cx="526.05" cy="39.75" r="1.25"/><circle cx="531.15" cy="40.55" r="1.25"/><circle cx="536.25" cy="41.35" r="1.25"/><circle cx="541.35" cy="42.15" r="1.25"/><circle cx="546.45" cy="42.95" r="1.25"/><circle cx="551.55" cy="43.75" r="1.25"/><circle cx="556.65" cy="44.55" r="1.25"/><circle cx="487.8" cy="30.3" r="1.25"/><circle cx="492.9" cy="31.1" r="1.25"/><circle cx="498" cy="31.9" r="1.25"/><circle cx="503.1" cy="32.7" r="1.25"/><circle cx="508.2" cy="33.5" r="1.25"/><circle cx="513.3" cy="34.3" r="1.25"/><circle cx="518.4" cy="35.1" r="1.25"/><circle cx="523.5" cy="35.9" r="1.25"/><circle cx="528.6" cy="36.7" r="1.25"/><circle cx="533.7" cy="37.5" r="1.25"/><circle cx="538.8" cy="38.3" r="1.25"/><circle cx="543.9" cy="39.1" r="1.25"/><circle cx="549" cy="39.9" r="1.25"/><circle cx="554.1" cy="40.7" r="1.25"/><circle cx="510.75" cy="30.45" r="1.25"/><circle cx="515.85" cy="31.25" r="1.25"/><circle cx="520.95" cy="32.05" r="1.25"/><circle cx="526.05" cy="32.85" r="1.25"/><circle cx="531.15" cy="33.65" r="1.25"/><circle cx="536.25" cy="34.45" r="1.25"/><circle cx="541.35" cy="35.25" r="1.25"/><circle cx="546.45" cy="36.05" r="1.25"/><circle cx="551.55" cy="36.85" r="1.25"/><circle cx="556.65" cy="37.65" r="1.25"/><circle cx="533.7" cy="30.6" r="1.25"/><circle cx="538.8" cy="31.4" r="1.25"/><circle cx="543.9" cy="32.2" r="1.25"/><circle cx="549" cy="33" r="1.25"/><circle cx="554.1" cy="33.8" r="1.25"/><circle cx="556.65" cy="30.75" r="1.25"/></g>
</g>
<polygon points="372.1,29.6 470.5,45.2 470.5,57.5 454.7,55.5 454.7,73.4 372.1,61" fill="#a95a50" stroke="#a95a50" stroke-width="0.6" stroke-linejoin="round" />
<polygon points="525.6,54 575.3,27.6 674.9,43.2 625.2,69" fill="#bf655a" stroke="#bf655a" stroke-width="0.6" stroke-linejoin="round" />
<polygon points="525.6,54 625.2,69 625.2,99.2 541.9,86.6 541.9,68.4 525.6,66" fill="#a95a50" stroke="#a95a50" stroke-width="0.6" stroke-linejoin="round" />
<polygon points="625.2,69 674.9,43.2 674.9,74.1 625.2,99.2" fill="#a5584e" stroke="#a5584e" stroke-width="0.6" stroke-linejoin="round" />
<path d="M458.5 60.36L542 72.59" stroke="#262a1c" stroke-width="7" opacity="0.4" fill="none"/>
<path d="M458.2 56L461.5 60L460.9 64.6M464.24 58.08L467.54 63.28L466.94 67.88M466.94 67.88L470.24 69.98M470.28 57.77L473.58 61.77L472.98 66.37M476.32 59.85L479.62 65.05L479.02 69.65M482.35 59.54L485.65 63.54L485.05 68.14M485.05 68.14L488.35 72.64M488.39 61.62L491.69 66.82L491.09 71.42M494.43 61.31L497.73 65.31L497.13 69.91M500.47 63.39L503.77 68.59L503.17 73.19M503.17 73.19L506.47 75.29M506.51 63.08L509.81 67.08L509.21 71.68M512.55 65.16L515.85 70.36L515.25 74.96M518.58 64.85L521.88 68.85L521.28 73.45M521.28 73.45L524.58 77.95M524.62 66.93L527.92 72.13L527.32 76.73M530.66 66.62L533.96 70.62L533.36 75.22M536.7 68.7L540 73.9L539.4 78.5" stroke="#b9b420" stroke-width="0.9" fill="none"/>
<g fill="#161616"><circle cx="461.5" cy="60" r="1.9"/><circle cx="467.54" cy="63.28" r="1.9"/><circle cx="473.58" cy="61.77" r="1.9"/><circle cx="479.62" cy="65.05" r="1.9"/><circle cx="485.65" cy="63.54" r="1.9"/><circle cx="491.69" cy="66.82" r="1.9"/><circle cx="497.73" cy="65.31" r="1.9"/><circle cx="503.77" cy="68.59" r="1.9"/><circle cx="509.81" cy="67.08" r="1.9"/><circle cx="515.85" cy="70.36" r="1.9"/><circle cx="521.88" cy="68.85" r="1.9"/><circle cx="527.92" cy="72.13" r="1.9"/><circle cx="533.96" cy="70.62" r="1.9"/><circle cx="540" cy="73.9" r="1.9"/></g>
<g fill="#e8e224"><circle cx="458.2" cy="56" r="1.45"/><circle cx="460.9" cy="64.6" r="1.45"/><circle cx="464.24" cy="58.08" r="1.45"/><circle cx="466.94" cy="67.88" r="1.45"/><circle cx="470.24" cy="69.98" r="1.45"/><circle cx="470.28" cy="57.77" r="1.45"/><circle cx="472.98" cy="66.37" r="1.45"/><circle cx="476.32" cy="59.85" r="1.45"/><circle cx="479.02" cy="69.65" r="1.45"/><circle cx="482.35" cy="59.54" r="1.45"/><circle cx="485.05" cy="68.14" r="1.45"/><circle cx="488.35" cy="72.64" r="1.45"/><circle cx="488.39" cy="61.62" r="1.45"/><circle cx="491.09" cy="71.42" r="1.45"/><circle cx="494.43" cy="61.31" r="1.45"/><circle cx="497.13" cy="69.91" r="1.45"/><circle cx="500.47" cy="63.39" r="1.45"/><circle cx="503.17" cy="73.19" r="1.45"/><circle cx="506.47" cy="75.29" r="1.45"/><circle cx="506.51" cy="63.08" r="1.45"/><circle cx="509.21" cy="71.68" r="1.45"/><circle cx="512.55" cy="65.16" r="1.45"/><circle cx="515.25" cy="74.96" r="1.45"/><circle cx="518.58" cy="64.85" r="1.45"/><circle cx="521.28" cy="73.45" r="1.45"/><circle cx="524.58" cy="77.95" r="1.45"/><circle cx="524.62" cy="66.93" r="1.45"/><circle cx="527.32" cy="76.73" r="1.45"/><circle cx="530.66" cy="66.62" r="1.45"/><circle cx="533.36" cy="75.22" r="1.45"/><circle cx="536.7" cy="68.7" r="1.45"/><circle cx="539.4" cy="78.5" r="1.45"/></g>
</g>
<g id="plot-c">
<clipPath id="clc"><rect x="54.6" y="160.7" width="276.7" height="205.5"/></clipPath>
<g clip-path="url(#clc)" fill="none" stroke-linejoin="round" stroke-linecap="butt">
<path d="M54.6 263.45 L331.3 263.45" stroke="#8a22d0" stroke-width="1.35" />
<path d="M54.6 284.62 C57.48 283.77 65.36 281.26 71.89 279.55 C78.43 277.84 86.49 275.94 93.79 274.34 C101.09 272.74 108.39 271.27 115.7 269.96 C123 268.64 130.31 267.41 137.61 266.46 C144.91 265.52 153.64 264.74 159.47 264.27 C165.3 263.8 168.42 263.79 172.61 263.66 C176.81 263.52 176.65 263.48 184.65 263.45 C192.65 263.42 196.18 263.45 220.62 263.45 C245.06 263.45 312.85 263.45 331.3 263.45" stroke="#1c1cf0" stroke-width="1.35" />
<path d="M54.6 318.11 C55.64 318.07 59.21 318.04 60.83 317.84 C62.44 317.63 62.44 317.56 64.28 316.88 C66.13 316.19 66.98 315.82 71.89 313.73 C76.81 311.64 86.49 307.63 93.79 304.34 C101.09 301.06 108.39 297.29 115.7 294 C123 290.71 130.31 287.64 137.61 284.62 C144.91 281.59 152.17 278.66 159.47 275.85 C166.76 273.04 175.8 269.83 181.38 267.77 C186.96 265.7 188.72 265.11 192.95 263.45 C197.18 261.79 202.17 259.57 206.78 257.83 C211.4 256.1 215.75 254.59 220.62 253.04 C225.49 251.49 230.21 249.94 235.98 248.52 C241.74 247.09 249.54 245.54 255.21 244.48 C260.88 243.41 265.86 242.79 269.98 242.15 C274.11 241.51 276.56 241.21 279.97 240.64 C283.38 240.07 285.3 239.38 290.45 238.72 C295.59 238.06 304.06 237.26 310.87 236.67 C317.67 236.07 327.89 235.41 331.3 235.16" stroke="#35a8cf" stroke-width="1.35" />
<path d="M54.6 343.05 C55.64 342.86 58.52 342.75 60.83 341.95 C63.13 341.15 64.86 340.11 68.44 338.25 C72.01 336.39 78.04 333.16 82.27 330.79 C86.5 328.41 86.88 328.35 93.79 324 C100.71 319.65 113.01 311.33 123.78 304.69 C134.54 298.04 146.83 291.01 158.36 284.14 C169.89 277.26 183.73 268.86 192.95 263.45 C202.17 258.04 206.53 255.69 213.7 251.67 C220.87 247.65 229.06 242.85 235.98 239.34 C242.89 235.82 249.54 233.2 255.21 230.57 C260.88 227.94 265.86 225.59 269.98 223.58 C274.11 221.57 276.56 220.11 279.97 218.51 C283.38 216.92 285.3 216.33 290.45 213.99 C295.59 211.65 304.06 207.54 310.87 204.47 C317.67 201.4 327.89 197.05 331.3 195.57" stroke="#e23cc0" stroke-width="1.35" />
<path d="M54.6 359.01 C55.75 358.63 59.21 357.81 61.52 356.75 C63.82 355.69 64.98 354.97 68.44 352.64 C71.89 350.31 78.04 345.86 82.27 342.77 C86.5 339.69 86.88 339.2 93.79 334.14 C100.71 329.08 113.01 320.15 123.78 312.43 C134.54 304.71 146.83 296 158.36 287.84 C169.89 279.67 183.73 269.83 192.95 263.45 C202.17 257.07 206.53 254.33 213.7 249.54 C220.87 244.76 229.06 239.26 235.98 234.75 C242.89 230.24 249.54 226.08 255.21 222.49 C260.88 218.89 265.86 215.8 269.98 213.17 C274.11 210.55 276.56 208.8 279.97 206.73 C283.38 204.67 287.51 202.62 290.45 200.77 C293.39 198.92 294.72 197.54 297.61 195.63 C300.5 193.73 304.38 191.34 307.78 189.33 C311.18 187.32 314.11 185.65 318.03 183.58 C321.95 181.51 329.09 178.04 331.3 176.93" stroke="#e5261c" stroke-width="1.6" />
</g>
<rect x="54.6" y="160.7" width="276.7" height="205.5" fill="none" stroke="#262626" stroke-width="1"/>
<path d="M123.78 366.2v-3M192.95 366.2v-3M262.12 366.2v-3M89.19 366.2v-1.6M158.36 366.2v-1.6M227.54 366.2v-1.6M296.71 366.2v-1.6" stroke="#262626" stroke-width="0.9" fill="none"/>
<path d="M54.6 331.95h3M54.6 297.7h3M54.6 263.45h3M54.6 229.2h3M54.6 194.95h3M54.6 349.07h1.6M54.6 314.82h1.6M54.6 280.57h1.6M54.6 246.32h1.6M54.6 212.07h1.6M54.6 177.82h1.6" stroke="#262626" stroke-width="0.9" fill="none"/>
<text x="54.6" y="380.6" font-size="14.5" text-anchor="middle" fill="#1a1a1a" letter-spacing="-0.25">-1</text>
<text x="123.78" y="380.6" font-size="14.5" text-anchor="middle" fill="#1a1a1a" letter-spacing="-0.25">-0.5</text>
<text x="192.95" y="380.6" font-size="14.5" text-anchor="middle" fill="#1a1a1a" letter-spacing="-0.25">0</text>
<text x="262.12" y="380.6" font-size="14.5" text-anchor="middle" fill="#1a1a1a" letter-spacing="-0.25">0.5</text>
<text x="331.3" y="380.6" font-size="14.5" text-anchor="middle" fill="#1a1a1a" letter-spacing="-0.25">1</text>
<text x="51.3" y="165.05" font-size="14.5" text-anchor="end" fill="#1a1a1a" letter-spacing="-0.25">0.15</text>
<text x="51.3" y="199.3" font-size="14.5" text-anchor="end" fill="#1a1a1a" letter-spacing="-0.25">0.1</text>
<text x="51.3" y="233.55" font-size="14.5" text-anchor="end" fill="#1a1a1a" letter-spacing="-0.25">0.05</text>
<text x="51.3" y="267.8" font-size="14.5" text-anchor="end" fill="#1a1a1a" letter-spacing="-0.25">0</text>
<text x="51.3" y="302.05" font-size="14.5" text-anchor="end" fill="#1a1a1a" letter-spacing="-0.25">-0.05</text>
<text x="51.3" y="336.3" font-size="14.5" text-anchor="end" fill="#1a1a1a" letter-spacing="-0.25">-0.1</text>
<text x="51.3" y="370.55" font-size="14.5" text-anchor="end" fill="#1a1a1a" letter-spacing="-0.25">-0.15</text>
<text transform="translate(15.4 263.4) rotate(-90)" font-size="17" text-anchor="middle" fill="#1a1a1a">Drain Current <tspan letter-spacing="-0.28">(µA/µm)</tspan></text>
<text x="199.8" y="404.5" font-size="17" text-anchor="middle" fill="#1a1a1a" >Drain Voltage (V)</text>
<text x="75.2" y="182.4" font-size="12.6" text-anchor="start" fill="#1a1a1a" >Top Gate</text>
<text x="75.2" y="197.7" font-size="12.6" text-anchor="start" fill="#1a1a1a" ><tspan font-style="italic">T</tspan>=25<tspan font-size="6.6" dy="-3.6" dx="0.3">o</tspan><tspan dy="3.6" dx="0.3">C</tspan></text>
<path d="M236.5 283.9H262.7" stroke="#8a22d0" stroke-width="1.4" fill="none"/>
<text x="267.1" y="288.1" font-size="11.6" text-anchor="start" fill="#1a1a1a" ><tspan font-style="italic">V</tspan><tspan font-size="8.4" dy="2.9" dx="-1.4">BG</tspan><tspan dy="-2.9" dx="0.1">=-2V</tspan></text>
<path d="M236.5 301.4H262.7" stroke="#1c1cf0" stroke-width="1.4" fill="none"/>
<text x="267.1" y="305.6" font-size="11.6" text-anchor="start" fill="#1a1a1a" ><tspan font-style="italic">V</tspan><tspan font-size="8.4" dy="2.9" dx="-1.4">BG</tspan><tspan dy="-2.9" dx="0.1">=-1V</tspan></text>
<path d="M236.5 318.7H262.7" stroke="#35a8cf" stroke-width="1.4" fill="none"/>
<text x="267.1" y="322.9" font-size="11.6" text-anchor="start" fill="#1a1a1a" ><tspan font-style="italic">V</tspan><tspan font-size="8.4" dy="2.9" dx="-1.4">BG</tspan><tspan dy="-2.9" dx="0.1">=0</tspan></text>
<path d="M236.5 335.6H262.7" stroke="#e23cc0" stroke-width="1.4" fill="none"/>
<text x="267.1" y="339.8" font-size="11.6" text-anchor="start" fill="#1a1a1a" ><tspan font-style="italic">V</tspan><tspan font-size="8.4" dy="2.9" dx="-1.4">BG</tspan><tspan dy="-2.9" dx="0.1">=1V</tspan></text>
<path d="M236.5 352.7H262.7" stroke="#e5261c" stroke-width="1.4" fill="none"/>
<text x="267.1" y="356.9" font-size="11.6" text-anchor="start" fill="#1a1a1a" ><tspan font-style="italic">V</tspan><tspan font-size="8.4" dy="2.9" dx="-1.4">BG</tspan><tspan dy="-2.9" dx="0.1">=2V</tspan></text>
</g>
<g id="plot-d">
<clipPath id="cld"><rect x="400.1" y="161" width="276.1" height="205.2"/></clipPath>
<g clip-path="url(#cld)" fill="none" stroke-linejoin="round" stroke-linecap="butt">
<path d="M400.1 295.94 C401.27 295.39 404.33 293.71 407.14 292.66 C409.95 291.6 411.67 291.06 416.94 289.6 C422.21 288.14 431.46 285.74 438.75 283.91 C446.05 282.09 453.39 280.36 460.7 278.64 C468.02 276.92 475.36 275.18 482.65 273.61 C489.95 272.04 497.17 270.57 504.47 269.22 C511.76 267.87 520.8 266.45 526.42 265.51 C532.03 264.57 532.74 264.22 538.15 263.6 C543.56 262.98 551.49 262.41 558.86 261.79 C566.22 261.18 574.73 260.43 582.33 259.91 C589.92 259.39 597.35 259.03 604.41 258.68 C611.48 258.32 617.34 258.12 624.71 257.79 C632.07 257.47 640.01 257.05 648.59 256.73 C657.17 256.4 671.6 255.99 676.2 255.84" stroke="#8a22d0" stroke-width="1.35" />
<path d="M400.1 306.01 C401.27 305.65 404.33 304.84 407.14 303.82 C409.95 302.8 411.67 301.74 416.94 299.88 C422.21 298.02 431.46 295.03 438.75 292.66 C446.05 290.29 453.39 287.92 460.7 285.66 C468.02 283.4 475.36 281.21 482.65 279.09 C489.95 276.98 497.17 274.96 504.47 272.96 C511.76 270.95 520.8 268.61 526.42 267.05 C532.03 265.49 530.44 265.39 538.15 263.6 C545.86 261.81 561.16 258.64 572.66 256.32 C584.17 253.99 595.67 251.78 607.18 249.65 C618.68 247.51 630.18 245.41 641.69 243.49 C653.19 241.58 670.45 239.04 676.2 238.16" stroke="#1c1cf0" stroke-width="1.35" />
<path d="M400.1 318.49 C401.14 318.42 404.7 318.37 406.31 318.08 C407.92 317.79 407.99 317.48 409.76 316.75 C411.54 316.01 412.11 315.66 416.94 313.69 C421.77 311.72 431.46 307.85 438.75 304.93 C446.05 302.01 453.39 299.09 460.7 296.17 C468.02 293.24 475.36 290.43 482.65 287.4 C489.95 284.37 497.17 281.12 504.47 277.98 C511.76 274.85 520.8 270.98 526.42 268.59 C532.03 266.19 530.44 266.43 538.15 263.6 C545.86 260.77 561.16 255.58 572.66 251.6 C584.17 247.61 595.67 243.61 607.18 239.69 C618.68 235.78 630.18 231.91 641.69 228.1 C653.19 224.29 670.45 218.7 676.2 216.81" stroke="#35a8cf" stroke-width="1.35" />
<path d="M400.1 331.19 C401.14 331.13 404.7 331.09 406.31 330.8 C407.92 330.52 407.99 330.24 409.76 329.47 C411.54 328.7 412.11 328.56 416.94 326.19 C421.77 323.81 431.46 318.97 438.75 315.21 C446.05 311.45 453.39 307.44 460.7 303.61 C468.02 299.78 475.36 295.95 482.65 292.23 C489.95 288.5 497.17 284.99 504.47 281.27 C511.76 277.55 520.8 272.84 526.42 269.9 C532.03 266.96 530.44 267.49 538.15 263.6 C545.86 259.71 561.16 252.25 572.66 246.57 C584.17 240.89 595.67 235.21 607.18 229.54 C618.68 223.86 630.18 218.18 641.69 212.51 C653.19 206.83 670.45 198.31 676.2 195.47" stroke="#e23cc0" stroke-width="1.35" />
<path d="M400.1 346.5 C401.14 346.45 404.7 346.5 406.31 346.19 C407.92 345.89 407.99 345.62 409.76 344.65 C411.54 343.69 412.11 343.38 416.94 340.41 C421.77 337.43 431.46 331.36 438.75 326.8 C446.05 322.24 453.39 317.7 460.7 313.03 C468.02 308.36 475.36 303.35 482.65 298.79 C489.95 294.23 497.17 290.22 504.47 285.66 C511.76 281.1 520.8 275.09 526.42 271.42 C532.03 267.74 533.07 266.94 538.15 263.6 C543.23 260.26 550.12 255.76 556.9 251.35 C563.67 246.93 571.49 241.86 578.79 237.11 C586.09 232.36 593.4 227.61 600.7 222.87 C608 218.12 615.29 213.39 622.6 208.65 C629.9 203.9 637.2 199.15 644.5 194.41 C651.8 189.66 661.12 183.54 666.4 180.19 C671.68 176.83 674.57 175.26 676.2 174.28" stroke="#e5261c" stroke-width="1.6" />
</g>
<rect x="400.1" y="161" width="276.1" height="205.2" fill="none" stroke="#262626" stroke-width="1"/>
<path d="M469.12 366.2v-3M538.15 366.2v-3M607.18 366.2v-3M434.61 366.2v-1.6M503.64 366.2v-1.6M572.66 366.2v-1.6M641.69 366.2v-1.6" stroke="#262626" stroke-width="0.9" fill="none"/>
<path d="M400.1 181.52h3M400.1 202.04h3M400.1 222.56h3M400.1 243.08h3M400.1 263.6h3M400.1 284.12h3M400.1 304.64h3M400.1 325.16h3M400.1 345.68h3M400.1 171.26h1.6M400.1 191.78h1.6M400.1 212.3h1.6M400.1 232.82h1.6M400.1 253.34h1.6M400.1 273.86h1.6M400.1 294.38h1.6M400.1 314.9h1.6M400.1 335.42h1.6M400.1 355.94h1.6" stroke="#262626" stroke-width="0.9" fill="none"/>
<text x="400.1" y="380.6" font-size="14.5" text-anchor="middle" fill="#1a1a1a" letter-spacing="-0.25">-1</text>
<text x="469.12" y="380.6" font-size="14.5" text-anchor="middle" fill="#1a1a1a" letter-spacing="-0.25">-0.5</text>
<text x="538.15" y="380.6" font-size="14.5" text-anchor="middle" fill="#1a1a1a" letter-spacing="-0.25">0</text>
<text x="607.18" y="380.6" font-size="14.5" text-anchor="middle" fill="#1a1a1a" letter-spacing="-0.25">0.5</text>
<text x="676.2" y="380.6" font-size="14.5" text-anchor="middle" fill="#1a1a1a" letter-spacing="-0.25">1</text>
<text x="396.8" y="165.35" font-size="14.5" text-anchor="end" fill="#1a1a1a" letter-spacing="-0.25">0.5</text>
<text x="396.8" y="185.87" font-size="14.5" text-anchor="end" fill="#1a1a1a" letter-spacing="-0.25">0.4</text>
<text x="396.8" y="206.39" font-size="14.5" text-anchor="end" fill="#1a1a1a" letter-spacing="-0.25">0.3</text>
<text x="396.8" y="226.91" font-size="14.5" text-anchor="end" fill="#1a1a1a" letter-spacing="-0.25">0.2</text>
<text x="396.8" y="247.43" font-size="14.5" text-anchor="end" fill="#1a1a1a" letter-spacing="-0.25">0.1</text>
<text x="396.8" y="267.95" font-size="14.5" text-anchor="end" fill="#1a1a1a" letter-spacing="-0.25">0</text>
<text x="396.8" y="288.47" font-size="14.5" text-anchor="end" fill="#1a1a1a" letter-spacing="-0.25">-0.1</text>
<text x="396.8" y="308.99" font-size="14.5" text-anchor="end" fill="#1a1a1a" letter-spacing="-0.25">-0.2</text>
<text x="396.8" y="329.51" font-size="14.5" text-anchor="end" fill="#1a1a1a" letter-spacing="-0.25">-0.3</text>
<text x="396.8" y="350.03" font-size="14.5" text-anchor="end" fill="#1a1a1a" letter-spacing="-0.25">-0.4</text>
<text x="396.8" y="370.55" font-size="14.5" text-anchor="end" fill="#1a1a1a" letter-spacing="-0.25">-0.5</text>
<text transform="translate(368.2 263.55) rotate(-90)" font-size="17" text-anchor="middle" fill="#1a1a1a">Drain Current <tspan letter-spacing="-0.38">(µA/µm)</tspan></text>
<text x="544.5" y="404.5" font-size="17" text-anchor="middle" fill="#1a1a1a" >Drain Voltage (V)</text>
<text x="420.2" y="183" font-size="12.6" text-anchor="start" fill="#1a1a1a" >Back Gate</text>
<text x="420.2" y="198.4" font-size="12.6" text-anchor="start" fill="#1a1a1a" ><tspan font-style="italic">T</tspan>=25<tspan font-size="6.6" dy="-3.6" dx="0.3">o</tspan><tspan dy="3.6" dx="0.3">C</tspan></text>
<path d="M584.9 284.5H611.6" stroke="#8a22d0" stroke-width="1.4" fill="none"/>
<text x="615.4" y="288.7" font-size="11.6" text-anchor="start" fill="#1a1a1a" ><tspan font-style="italic">V</tspan><tspan font-size="8.4" dy="2.9" dx="-1.4">BG</tspan><tspan dy="-2.9" dx="0.1">=-2V</tspan></text>
<path d="M584.9 302H611.6" stroke="#1c1cf0" stroke-width="1.4" fill="none"/>
<text x="615.4" y="306.2" font-size="11.6" text-anchor="start" fill="#1a1a1a" ><tspan font-style="italic">V</tspan><tspan font-size="8.4" dy="2.9" dx="-1.4">BG</tspan><tspan dy="-2.9" dx="0.1">=-1V</tspan></text>
<path d="M584.9 319.3H611.6" stroke="#35a8cf" stroke-width="1.4" fill="none"/>
<text x="615.4" y="323.5" font-size="11.6" text-anchor="start" fill="#1a1a1a" ><tspan font-style="italic">V</tspan><tspan font-size="8.4" dy="2.9" dx="-1.4">BG</tspan><tspan dy="-2.9" dx="0.1">=0</tspan></text>
<path d="M584.9 336.2H611.6" stroke="#e23cc0" stroke-width="1.4" fill="none"/>
<text x="615.4" y="340.4" font-size="11.6" text-anchor="start" fill="#1a1a1a" ><tspan font-style="italic">V</tspan><tspan font-size="8.4" dy="2.9" dx="-1.4">BG</tspan><tspan dy="-2.9" dx="0.1">=1V</tspan></text>
<path d="M584.9 353.3H611.6" stroke="#e5261c" stroke-width="1.4" fill="none"/>
<text x="615.4" y="357.5" font-size="11.6" text-anchor="start" fill="#1a1a1a" ><tspan font-style="italic">V</tspan><tspan font-size="8.4" dy="2.9" dx="-1.4">BG</tspan><tspan dy="-2.9" dx="0.1">=2V</tspan></text>
</g>
<g id="plot-e">
<clipPath id="cle"><rect x="55.5" y="423.8" width="277" height="206.5"/></clipPath>
<g clip-path="url(#cle)" fill="none" stroke-linejoin="round" stroke-linecap="butt">
<path d="M55.5 598.8 C56.25 599.33 58.18 600.17 60 602 C61.82 603.83 64.9 607.13 66.4 609.8 C67.9 612.47 68.08 614.9 69 618 C69.92 621.1 71.02 628.23 71.9 628.4 C72.78 628.57 73.2 626.12 74.3 619 C75.4 611.88 77.08 594.53 78.5 585.7 C79.92 576.87 81.55 571.12 82.8 566 C84.05 560.88 84.9 558.1 86 555 C87.1 551.9 88.23 549.32 89.4 547.4 C90.57 545.48 91.72 544.42 93 543.5 C94.28 542.58 95.1 542.27 97.1 541.9 C99.1 541.53 101.35 541.45 105 541.3 C108.65 541.15 114.33 540.92 119 540.97 C123.67 541.02 128.33 541.52 133 541.61 C137.67 541.71 142.33 541.63 147 541.54 C151.67 541.45 156.33 541.12 161 541.08 C165.67 541.04 170.33 541.27 175 541.3 C179.67 541.33 184.33 541.23 189 541.25 C193.67 541.28 198.33 541.39 203 541.44 C207.67 541.49 212.33 541.64 217 541.56 C221.67 541.48 226.33 541.05 231 540.93 C235.67 540.82 240.33 540.76 245 540.88 C249.67 540.99 254.33 541.54 259 541.6 C263.67 541.66 268.33 541.25 273 541.24 C277.67 541.23 282.33 541.6 287 541.54 C291.67 541.47 296.33 540.9 301 540.85 C305.67 540.8 309.75 541.16 315 541.25 C320.25 541.34 329.58 541.37 332.5 541.4" stroke="#8a22d0" stroke-width="1.35" />
<path d="M55.5 603.2 C56.08 604.17 57.73 607 59 609 C60.27 611 61.93 615.2 63.1 615.2 C64.27 615.2 64.85 612.53 66 609 C67.15 605.47 68.33 600.83 70 594 C71.67 587.17 74 576.67 76 568 C78 559.33 80.33 549 82 542 C83.67 535 84.83 530.33 86 526 C87.17 521.67 88 518.67 89 516 C90 513.33 91.02 511.37 92 510 C92.98 508.63 93.57 508.33 94.9 507.8 C96.23 507.27 96.98 506.88 100 506.8 C103.02 506.72 108.67 507.26 113 507.35 C117.33 507.44 121.67 507.52 126 507.34 C130.33 507.16 134.67 506.44 139 506.27 C143.33 506.1 147.67 506.15 152 506.3 C156.33 506.46 160.67 507.07 165 507.2 C169.33 507.33 173.67 507.12 178 507.08 C182.33 507.05 186.67 507.09 191 507 C195.33 506.92 199.67 506.58 204 506.57 C208.33 506.56 212.67 506.87 217 506.93 C221.33 506.99 225.67 506.93 230 506.93 C234.33 506.92 238.67 506.99 243 506.9 C247.33 506.81 251.67 506.42 256 506.39 C260.33 506.36 264.67 506.67 269 506.72 C273.33 506.76 277.67 506.61 282 506.67 C286.33 506.73 290.67 506.95 295 507.07 C299.33 507.19 303.67 507.35 308 507.39 C312.33 507.44 316.92 507.43 321 507.34 C325.08 507.24 330.58 506.91 332.5 506.83" stroke="#1c1cf0" stroke-width="1.35" />
<path d="M55.5 614 C56.08 614.83 57.73 617.7 59 619 C60.27 620.3 61.85 622.13 63.1 621.8 C64.35 621.47 65.27 619.8 66.5 617 C67.73 614.2 68.83 611.17 70.5 605 C72.17 598.83 74.5 588.83 76.5 580 C78.5 571.17 80.53 560.83 82.5 552 C84.47 543.17 86.55 534.33 88.3 527 C90.05 519.67 91.38 514 93 508 C94.62 502 96.67 494.83 98 491 C99.33 487.17 100.07 486.53 101 485 C101.93 483.47 102.43 482.57 103.6 481.8 C104.77 481.03 106.1 480.73 108 480.4 C109.9 480.07 111.33 479.94 115 479.8 C118.67 479.66 125 479.53 130 479.54 C135 479.55 140 479.82 145 479.84 C150 479.87 155 479.66 160 479.67 C165 479.68 170 479.86 175 479.9 C180 479.95 185 480.02 190 479.93 C195 479.84 200 479.47 205 479.37 C210 479.26 215 479.18 220 479.31 C225 479.44 230 480.1 235 480.14 C240 480.18 245 479.66 250 479.56 C255 479.46 260 479.41 265 479.53 C270 479.66 275 480.26 280 480.3 C285 480.33 290 479.8 295 479.77 C300 479.74 303.75 480.13 310 480.14 C316.25 480.14 328.75 479.85 332.5 479.79" stroke="#35a8cf" stroke-width="1.35" />
<path d="M55.5 607.6 C56.08 609.17 57.65 613.35 59 617 C60.35 620.65 62.4 628.33 63.6 629.5 C64.8 630.67 65.13 627.75 66.2 624 C67.27 620.25 68.37 614.67 70 607 C71.63 599.33 74 587.67 76 578 C78 568.33 79.95 558.17 82 549 C84.05 539.83 86.13 531.67 88.3 523 C90.47 514.33 92.27 505.17 95 497 C97.73 488.83 102.2 478.83 104.7 474 C107.2 469.17 108.17 469.4 110 468 C111.83 466.6 113.7 465.88 115.7 465.6 C117.7 465.32 119.62 466.07 122 466.3 C124.38 466.53 126 466.93 130 467 C134 467.07 140.67 466.78 146 466.71 C151.33 466.64 156.67 466.53 162 466.56 C167.33 466.59 172.67 466.88 178 466.89 C183.33 466.9 188.67 466.68 194 466.62 C199.33 466.56 204.67 466.48 210 466.52 C215.33 466.57 220.67 466.74 226 466.89 C231.33 467.05 236.67 467.39 242 467.46 C247.33 467.53 252.67 467.36 258 467.33 C263.33 467.3 268.67 467.4 274 467.29 C279.33 467.19 284.67 466.74 290 466.69 C295.33 466.65 300.67 467.03 306 467.04 C311.33 467.05 317.58 466.79 322 466.75 C326.42 466.72 330.75 466.81 332.5 466.82" stroke="#e23cc0" stroke-width="1.35" />
<path d="M55.5 614.6 C56.25 614.77 58.75 615.45 60 615.6 C61.25 615.75 62 616.27 63 615.5 C64 614.73 64.83 613.92 66 611 C67.17 608.08 68.33 604.5 70 598 C71.67 591.5 74 580.83 76 572 C78 563.17 79.95 553.67 82 545 C84.05 536.33 86.13 528.33 88.3 520 C90.47 511.67 93.2 501.3 95 495 C96.8 488.7 97.68 485.83 99.1 482.2 C100.52 478.57 102.05 475.73 103.5 473.2 C104.95 470.67 106.5 468.67 107.8 467 C109.1 465.33 109.98 464.43 111.3 463.2 C112.62 461.97 114.08 460.93 115.7 459.6 C117.32 458.27 119.18 456.62 121 455.2 C122.82 453.78 124.77 452.33 126.6 451.1 C128.43 449.87 130.17 448.78 132 447.8 C133.83 446.82 135.93 445.83 137.6 445.2 C139.27 444.57 140.55 444.28 142 444 C143.45 443.72 143.3 443.65 146.3 443.5 C149.3 443.35 154.88 443.15 160 443.1 C165.12 443.05 171.33 443.15 177 443.17 C182.67 443.2 188.33 443.23 194 443.25 C199.67 443.26 205.33 443.26 211 443.28 C216.67 443.3 222.33 443.37 228 443.37 C233.67 443.36 239.33 443.25 245 443.24 C250.67 443.24 256.33 443.42 262 443.35 C267.67 443.28 273.33 442.86 279 442.82 C284.67 442.77 290.33 442.99 296 443.08 C301.67 443.17 306.92 443.36 313 443.37 C319.08 443.38 329.25 443.18 332.5 443.14" stroke="#e5261c" stroke-width="1.6" />
</g>
<rect x="55.5" y="423.8" width="277" height="206.5" fill="none" stroke="#262626" stroke-width="1"/>
<path d="M101.67 630.3v-3M147.83 630.3v-3M194 630.3v-3M240.17 630.3v-3M286.33 630.3v-3M78.58 630.3v-1.6M124.75 630.3v-1.6M170.92 630.3v-1.6M217.08 630.3v-1.6M263.25 630.3v-1.6M309.42 630.3v-1.6" stroke="#262626" stroke-width="0.9" fill="none"/>
<path d="M55.5 621.2h2.6M55.5 588.3h2.6M55.5 555.4h2.6M55.5 522.5h2.6M55.5 489.6h2.6M55.5 456.7h2.6M55.5 628.5h1.4M55.5 626.3h1.4M55.5 624.39h1.4M55.5 622.71h1.4M55.5 611.3h1.4M55.5 605.5h1.4M55.5 601.39h1.4M55.5 598.2h1.4M55.5 595.6h1.4M55.5 593.4h1.4M55.5 591.49h1.4M55.5 589.81h1.4M55.5 578.4h1.4M55.5 572.6h1.4M55.5 568.49h1.4M55.5 565.3h1.4M55.5 562.7h1.4M55.5 560.5h1.4M55.5 558.59h1.4M55.5 556.91h1.4M55.5 545.5h1.4M55.5 539.7h1.4M55.5 535.59h1.4M55.5 532.4h1.4M55.5 529.8h1.4M55.5 527.6h1.4M55.5 525.69h1.4M55.5 524.01h1.4M55.5 512.6h1.4M55.5 506.8h1.4M55.5 502.69h1.4M55.5 499.5h1.4M55.5 496.9h1.4M55.5 494.7h1.4M55.5 492.79h1.4M55.5 491.11h1.4M55.5 479.7h1.4M55.5 473.9h1.4M55.5 469.79h1.4M55.5 466.6h1.4M55.5 464h1.4M55.5 461.8h1.4M55.5 459.89h1.4M55.5 458.21h1.4M55.5 446.8h1.4M55.5 441h1.4M55.5 436.89h1.4M55.5 433.7h1.4M55.5 431.1h1.4M55.5 428.9h1.4M55.5 426.99h1.4M55.5 425.31h1.4" stroke="#262626" stroke-width="0.9" fill="none"/>
<text x="55.5" y="644" font-size="14.5" text-anchor="middle" fill="#1a1a1a" letter-spacing="-0.25">-2</text>
<text x="101.67" y="644" font-size="14.5" text-anchor="middle" fill="#1a1a1a" letter-spacing="-0.25">-1.5</text>
<text x="147.83" y="644" font-size="14.5" text-anchor="middle" fill="#1a1a1a" letter-spacing="-0.25">-1</text>
<text x="194" y="644" font-size="14.5" text-anchor="middle" fill="#1a1a1a" letter-spacing="-0.25">-0.5</text>
<text x="240.17" y="644" font-size="14.5" text-anchor="middle" fill="#1a1a1a" letter-spacing="-0.25">0</text>
<text x="286.33" y="644" font-size="14.5" text-anchor="middle" fill="#1a1a1a" letter-spacing="-0.25">0.5</text>
<text x="332.5" y="644" font-size="14.5" text-anchor="middle" fill="#1a1a1a" letter-spacing="-0.25">1</text>
<text x="52.9" y="626.9" font-size="14.5" text-anchor="end" fill="#1a1a1a" >10<tspan font-size="9.8" dy="-7">-8</tspan></text>
<text x="52.9" y="594" font-size="14.5" text-anchor="end" fill="#1a1a1a" >10<tspan font-size="9.8" dy="-7">-7</tspan></text>
<text x="52.9" y="561.1" font-size="14.5" text-anchor="end" fill="#1a1a1a" >10<tspan font-size="9.8" dy="-7">-6</tspan></text>
<text x="52.9" y="528.2" font-size="14.5" text-anchor="end" fill="#1a1a1a" >10<tspan font-size="9.8" dy="-7">-5</tspan></text>
<text x="52.9" y="495.3" font-size="14.5" text-anchor="end" fill="#1a1a1a" >10<tspan font-size="9.8" dy="-7">-4</tspan></text>
<text x="52.9" y="462.4" font-size="14.5" text-anchor="end" fill="#1a1a1a" >10<tspan font-size="9.8" dy="-7">-3</tspan></text>
<text x="52.9" y="429.5" font-size="14.5" text-anchor="end" fill="#1a1a1a" >10<tspan font-size="9.8" dy="-7">-2</tspan></text>
<text transform="translate(23.6 527.4) rotate(-90)" font-size="17" text-anchor="middle" fill="#1a1a1a">Drain Current <tspan letter-spacing="-0.28">(µA/µm)</tspan></text>
<text x="194" y="665.7" font-size="17" text-anchor="middle" fill="#1a1a1a" >Gate Voltage (V)</text>
<text x="143" y="560.4" font-size="12" text-anchor="start" fill="#1a1a1a" >Top Gate</text>
<text x="143" y="574.7" font-size="12" text-anchor="start" fill="#1a1a1a" ><tspan font-style="italic">T</tspan>=25<tspan font-size="6.6" dy="-3.6" dx="0.3">o</tspan><tspan dy="3.6" dx="0.3">C</tspan></text>
<text x="143" y="589.5" font-size="12" text-anchor="start" fill="#1a1a1a" >Vacuum</text>
<path d="M240.2 552.8H265.6" stroke="#8a22d0" stroke-width="1.4" fill="none"/>
<text x="269.2" y="557" font-size="11.3" text-anchor="start" fill="#1a1a1a" ><tspan font-style="italic">V</tspan><tspan font-size="8" dy="2.9" dx="-1.4">D</tspan><tspan dy="-2.9" dx="0.1">=0.01V</tspan></text>
<path d="M240.2 569.7H265.6" stroke="#1c1cf0" stroke-width="1.4" fill="none"/>
<text x="269.2" y="573.9" font-size="11.3" text-anchor="start" fill="#1a1a1a" ><tspan font-style="italic">V</tspan><tspan font-size="8" dy="2.9" dx="-1.4">D</tspan><tspan dy="-2.9" dx="0.1">=0.1V</tspan></text>
<path d="M240.2 586.1H265.6" stroke="#35a8cf" stroke-width="1.4" fill="none"/>
<text x="269.2" y="590.3" font-size="11.3" text-anchor="start" fill="#1a1a1a" ><tspan font-style="italic">V</tspan><tspan font-size="8" dy="2.9" dx="-1.4">D</tspan><tspan dy="-2.9" dx="0.1">=0.3V</tspan></text>
<path d="M240.2 602.5H265.6" stroke="#e23cc0" stroke-width="1.4" fill="none"/>
<text x="269.2" y="606.7" font-size="11.3" text-anchor="start" fill="#1a1a1a" ><tspan font-style="italic">V</tspan><tspan font-size="8" dy="2.9" dx="-1.4">D</tspan><tspan dy="-2.9" dx="0.1">=0.5V</tspan></text>
<path d="M240.2 619.2H265.6" stroke="#e5261c" stroke-width="1.4" fill="none"/>
<text x="269.2" y="623.4" font-size="11.3" text-anchor="start" fill="#1a1a1a" ><tspan font-style="italic">V</tspan><tspan font-size="8" dy="2.9" dx="-1.4">D</tspan><tspan dy="-2.9" dx="0.1">=1V</tspan></text>
</g>
<g id="plot-f">
<clipPath id="clf"><rect x="402" y="423.3" width="277.6" height="206.8"/></clipPath>
<g clip-path="url(#clf)" fill="none" stroke-linejoin="round" stroke-linecap="butt">
<path d="M402 612.5 C405 612.25 413.67 610.92 420 611 C426.33 611.08 434.67 611.83 440 613 C445.33 614.17 448.92 616.9 452 618 C455.08 619.1 456.5 620.1 458.5 619.6 C460.5 619.1 461.82 617.73 464 615 C466.18 612.27 468.5 608.45 471.6 603.2 C474.7 597.95 478.95 590.07 482.6 583.5 C486.25 576.93 489.85 569.63 493.5 563.8 C497.15 557.97 500.85 552.88 504.5 548.5 C508.15 544.12 511.75 540.6 515.4 537.5 C519.05 534.4 523.13 531.88 526.4 529.9 C529.67 527.92 531.38 526.87 535 525.6 C538.62 524.33 542.63 523.1 548.1 522.3 C553.57 521.5 559.03 521.2 567.8 520.8 C576.57 520.4 582.07 520.08 600.7 519.9 C619.33 519.72 666.45 519.73 679.6 519.7" stroke="#8a22d0" stroke-width="1.35" />
<path d="M402 611 C403.33 610.75 407.33 609.17 410 609.5 C412.67 609.83 415.67 611.92 418 613 C420.33 614.08 422 616.33 424 616 C426 615.67 428.33 612.08 430 611 C431.67 609.92 432.67 609.17 434 609.5 C435.33 609.83 436.33 610.75 438 613 C439.67 615.25 442.23 620.8 444 623 C445.77 625.2 447.1 626.2 448.6 626.2 C450.1 626.2 451.6 624.53 453 623 C454.4 621.47 455.83 619.17 457 617 C458.17 614.83 459 612.83 460 610 C461 607.17 461.83 603.5 463 600 C464.17 596.5 464.83 593.67 467 589 C469.17 584.33 471.58 579.5 476 572 C480.42 564.5 488.75 551.47 493.5 544 C498.25 536.53 501.22 531.8 504.5 527.2 C507.78 522.6 510.28 519.73 513.2 516.4 C516.12 513.07 519.07 509.73 522 507.2 C524.93 504.67 527.88 502.88 530.8 501.2 C533.72 499.52 535.88 498.7 539.5 497.1 C543.12 495.5 547.78 493.17 552.5 491.6 C557.22 490.03 561.6 488.6 567.8 487.7 C574 486.8 582.4 486.78 589.7 486.2 C597 485.62 606.12 484.43 611.6 484.2 C617.08 483.97 617.12 484.92 622.6 484.8 C628.08 484.68 635 483.78 644.5 483.5 C654 483.22 673.75 483.17 679.6 483.1" stroke="#1c1cf0" stroke-width="1.35" />
<path d="M402 614 C403.33 614.42 407 616 410 616.5 C413 617 417 617.58 420 617 C423 616.42 425.33 613.92 428 613 C430.67 612.08 433 611.42 436 611.5 C439 611.58 442.67 612.83 446 613.5 C449.33 614.17 453.83 615.75 456 615.5 C458.17 615.25 458 614.42 459 612 C460 609.58 460.75 604.92 462 601 C463.25 597.08 464.17 593.5 466.5 588.5 C468.83 583.5 471.5 578.67 476 571 C480.5 563.33 488.02 550.92 493.5 542.5 C498.98 534.08 503.42 527.75 508.9 520.5 C514.38 513.25 522.05 503.82 526.4 499 C530.75 494.18 529.92 495.38 535 491.6 C540.08 487.82 549.6 480.38 556.9 476.3 C564.2 472.22 571.5 469.28 578.8 467.1 C586.1 464.92 593.4 464.22 600.7 463.2 C608 462.18 615.3 461.73 622.6 461 C629.9 460.27 637.2 459.47 644.5 458.8 C651.8 458.13 660.55 457.33 666.4 457 C672.25 456.67 677.4 456.83 679.6 456.8" stroke="#35a8cf" stroke-width="1.35" />
<path d="M402 613 C402.83 613.83 405.25 616.35 407 618 C408.75 619.65 410.67 623.07 412.5 622.9 C414.33 622.73 416.08 618.9 418 617 C419.92 615.1 421.67 611.92 424 611.5 C426.33 611.08 430 613.58 432 614.5 C434 615.42 434.33 617 436 617 C437.67 617 439.33 614.58 442 614.5 C444.67 614.42 449.33 616.17 452 616.5 C454.67 616.83 456.5 617.42 458 616.5 C459.5 615.58 460 613.92 461 611 C462 608.08 462.83 602.92 464 599 C465.17 595.08 466 591.92 468 587.5 C470 583.08 471.75 579.75 476 572.5 C480.25 565.25 488.02 552.92 493.5 544 C498.98 535.08 504.88 525.33 508.9 519 C512.92 512.67 514.68 509.92 517.6 506 C520.52 502.08 523.12 498.8 526.4 495.5 C529.68 492.2 532.22 489.77 537.3 486.2 C542.38 482.63 549.98 478.3 556.9 474.1 C563.82 469.9 571.5 464.28 578.8 461 C586.1 457.72 593.4 456.05 600.7 454.4 C608 452.75 615.3 451.93 622.6 451.1 C629.9 450.27 635 450.02 644.5 449.4 C654 448.78 673.75 447.73 679.6 447.4" stroke="#e23cc0" stroke-width="1.35" />
<path d="M402 609.3 C405 609.67 413.67 610.63 420 611.5 C426.33 612.37 434.67 613.75 440 614.5 C445.33 615.25 449.1 615.7 452 616 C454.9 616.3 456.07 616.97 457.4 616.3 C458.73 615.63 459.07 614.72 460 612 C460.93 609.28 461.78 604.02 463 600 C464.22 595.98 465.13 592.65 467.3 587.9 C469.47 583.15 471.63 578.98 476 571.5 C480.37 564.02 489.12 549.92 493.5 543 C497.88 536.08 499.73 533.83 502.3 530 C504.87 526.17 506.72 523.12 508.9 520 C511.08 516.88 512.48 515.12 515.4 511.3 C518.32 507.48 522.75 501.18 526.4 497.1 C530.05 493.02 532.22 490.82 537.3 486.8 C542.38 482.78 549.98 477.67 556.9 473 C563.82 468.33 571.5 462.52 578.8 458.8 C586.1 455.08 593.4 452.97 600.7 450.7 C608 448.43 615.3 446.7 622.6 445.2 C629.9 443.7 635 442.8 644.5 441.7 C654 440.6 673.75 439.12 679.6 438.6" stroke="#e5261c" stroke-width="1.6" />
</g>
<rect x="402" y="423.3" width="277.6" height="206.8" fill="none" stroke="#262626" stroke-width="1"/>
<path d="M457.52 630.1v-3M513.04 630.1v-3M568.56 630.1v-3M624.08 630.1v-3M429.76 630.1v-1.6M485.28 630.1v-1.6M540.8 630.1v-1.6M596.32 630.1v-1.6M651.84 630.1v-1.6" stroke="#262626" stroke-width="0.9" fill="none"/>
<path d="M402 623.3h4.2M402 598.3h4.2M402 573.3h4.2M402 548.3h4.2M402 523.3h4.2M402 498.3h4.2M402 473.3h4.2M402 448.3h4.2M402 628.85h2.3M402 627.17h2.3M402 625.72h2.3M402 624.44h2.3M402 615.77h2.3M402 611.37h2.3M402 608.25h2.3M402 605.83h2.3M402 603.85h2.3M402 602.17h2.3M402 600.72h2.3M402 599.44h2.3M402 590.77h2.3M402 586.37h2.3M402 583.25h2.3M402 580.83h2.3M402 578.85h2.3M402 577.17h2.3M402 575.72h2.3M402 574.44h2.3M402 565.77h2.3M402 561.37h2.3M402 558.25h2.3M402 555.83h2.3M402 553.85h2.3M402 552.17h2.3M402 550.72h2.3M402 549.44h2.3M402 540.77h2.3M402 536.37h2.3M402 533.25h2.3M402 530.83h2.3M402 528.85h2.3M402 527.17h2.3M402 525.72h2.3M402 524.44h2.3M402 515.77h2.3M402 511.37h2.3M402 508.25h2.3M402 505.83h2.3M402 503.85h2.3M402 502.17h2.3M402 500.72h2.3M402 499.44h2.3M402 490.77h2.3M402 486.37h2.3M402 483.25h2.3M402 480.83h2.3M402 478.85h2.3M402 477.17h2.3M402 475.72h2.3M402 474.44h2.3M402 465.77h2.3M402 461.37h2.3M402 458.25h2.3M402 455.83h2.3M402 453.85h2.3M402 452.17h2.3M402 450.72h2.3M402 449.44h2.3M402 440.77h2.3M402 436.37h2.3M402 433.25h2.3M402 430.83h2.3M402 428.85h2.3M402 427.17h2.3M402 425.72h2.3M402 424.44h2.3" stroke="#262626" stroke-width="0.9" fill="none"/>
<text x="402" y="645.8" font-size="14.5" text-anchor="middle" fill="#1a1a1a" letter-spacing="-0.25">-1.5</text>
<text x="457.52" y="645.8" font-size="14.5" text-anchor="middle" fill="#1a1a1a" letter-spacing="-0.25">-1</text>
<text x="513.04" y="645.8" font-size="14.5" text-anchor="middle" fill="#1a1a1a" letter-spacing="-0.25">-0.5</text>
<text x="568.56" y="645.8" font-size="14.5" text-anchor="middle" fill="#1a1a1a" letter-spacing="-0.25">0</text>
<text x="624.08" y="645.8" font-size="14.5" text-anchor="middle" fill="#1a1a1a" letter-spacing="-0.25">0.5</text>
<text x="679.6" y="645.8" font-size="14.5" text-anchor="middle" fill="#1a1a1a" letter-spacing="-0.25">1</text>
<text x="397.8" y="629" font-size="14.5" text-anchor="end" fill="#1a1a1a" >10<tspan font-size="9.8" dy="-7">-8</tspan></text>
<text x="397.8" y="604" font-size="14.5" text-anchor="end" fill="#1a1a1a" >10<tspan font-size="9.8" dy="-7">-7</tspan></text>
<text x="397.8" y="579" font-size="14.5" text-anchor="end" fill="#1a1a1a" >10<tspan font-size="9.8" dy="-7">-6</tspan></text>
<text x="397.8" y="554" font-size="14.5" text-anchor="end" fill="#1a1a1a" >10<tspan font-size="9.8" dy="-7">-5</tspan></text>
<text x="397.8" y="529" font-size="14.5" text-anchor="end" fill="#1a1a1a" >10<tspan font-size="9.8" dy="-7">-4</tspan></text>
<text x="397.8" y="504" font-size="14.5" text-anchor="end" fill="#1a1a1a" >10<tspan font-size="9.8" dy="-7">-3</tspan></text>
<text x="397.8" y="479" font-size="14.5" text-anchor="end" fill="#1a1a1a" >10<tspan font-size="9.8" dy="-7">-2</tspan></text>
<text x="397.8" y="454" font-size="14.5" text-anchor="end" fill="#1a1a1a" >10<tspan font-size="9.8" dy="-7">-1</tspan></text>
<text x="397.8" y="429" font-size="14.5" text-anchor="end" fill="#1a1a1a" >10<tspan font-size="9.8" dy="-7">0</tspan></text>
<text transform="translate(367.4 527) rotate(-90)" font-size="17" text-anchor="middle" fill="#1a1a1a">Drain Current <tspan letter-spacing="-0.16">(µA/µm)</tspan></text>
<text x="540.8" y="667.9" font-size="17.2" text-anchor="middle" fill="#1a1a1a" >Gate Voltage (V)</text>
<text x="420.5" y="447.8" font-size="11.9" text-anchor="start" fill="#1a1a1a" >Back Gate</text>
<text x="420.5" y="466.9" font-size="11.9" text-anchor="start" fill="#1a1a1a" ><tspan font-style="italic">T</tspan>=25<tspan font-size="6.6" dy="-3.6" dx="0.3">o</tspan><tspan dy="3.6" dx="0.3">C</tspan></text>
<text x="420.5" y="481.3" font-size="11.9" text-anchor="start" fill="#1a1a1a" >Vacuum</text>
<path d="M588.2 546.7H613.4" stroke="#8a22d0" stroke-width="1.4" fill="none"/>
<text x="617.2" y="550.9" font-size="11.3" text-anchor="start" fill="#1a1a1a" ><tspan font-style="italic">V</tspan><tspan font-size="8" dy="2.9" dx="-1.4">D</tspan><tspan dy="-2.9" dx="0.1">=0.01V</tspan></text>
<path d="M588.2 563.4H613.4" stroke="#1c1cf0" stroke-width="1.4" fill="none"/>
<text x="617.2" y="567.6" font-size="11.3" text-anchor="start" fill="#1a1a1a" ><tspan font-style="italic">V</tspan><tspan font-size="8" dy="2.9" dx="-1.4">D</tspan><tspan dy="-2.9" dx="0.1">=0.1V</tspan></text>
<path d="M588.2 579.6H613.4" stroke="#35a8cf" stroke-width="1.4" fill="none"/>
<text x="617.2" y="583.8" font-size="11.3" text-anchor="start" fill="#1a1a1a" ><tspan font-style="italic">V</tspan><tspan font-size="8" dy="2.9" dx="-1.4">D</tspan><tspan dy="-2.9" dx="0.1">=0.3V</tspan></text>
<path d="M588.2 596.4H613.4" stroke="#e23cc0" stroke-width="1.4" fill="none"/>
<text x="617.2" y="600.6" font-size="11.3" text-anchor="start" fill="#1a1a1a" ><tspan font-style="italic">V</tspan><tspan font-size="8" dy="2.9" dx="-1.4">D</tspan><tspan dy="-2.9" dx="0.1">=0.5V</tspan></text>
<path d="M588.2 613.1H613.4" stroke="#e5261c" stroke-width="1.4" fill="none"/>
<text x="617.2" y="617.3" font-size="11.3" text-anchor="start" fill="#1a1a1a" ><tspan font-style="italic">V</tspan><tspan font-size="8" dy="2.9" dx="-1.4">D</tspan><tspan dy="-2.9" dx="0.1">=1V</tspan></text>
</g>
<g id="plot-g">
<g fill="none" stroke-linejoin="round">
<path d="M255.4 892 C258.17 889.58 266.15 883.12 272 877.5 C277.85 871.88 285.67 864.88 290.5 858.3 C295.33 851.72 297.37 846.33 301 838 C304.63 829.67 309.07 817.17 312.3 808.3 C315.53 799.43 317.68 791.95 320.4 784.8 C323.12 777.65 325.87 771.02 328.6 765.4 C331.33 759.78 334.07 755.02 336.8 751.1 C339.53 747.18 341.93 744.63 345 741.9 C348.07 739.17 351.63 736.33 355.2 734.7 C358.77 733.07 362.65 732.1 366.4 732.1 C370.15 732.1 374.12 732.9 377.7 734.7 C381.28 736.5 384.5 739.48 387.9 742.9 C391.3 746.32 394.87 750.93 398.1 755.2 C401.33 759.47 404.23 763.05 407.3 768.5 C410.37 773.95 413.27 780.25 416.5 787.9 C419.73 795.55 424.12 808.13 426.7 814.4 C429.28 820.67 430.28 822.32 432 825.5 C433.72 828.68 435.42 831 437 833.5 C438.58 836 439.93 837.5 441.5 840.5 C443.07 843.5 444.73 847.78 446.4 851.5 C448.07 855.22 449.45 859.22 451.5 862.8 C453.55 866.38 456.32 870.12 458.7 873 C461.08 875.88 463.25 877.88 465.8 880.1 C468.35 882.32 471.43 884.52 474 886.3 C476.57 888.08 478.8 889.42 481.2 890.8 C483.6 892.18 487.2 893.97 488.4 894.6" stroke="#2a7ac8" stroke-width="1.35" />
<path d="M310.9 898.4 C313.17 897.85 320.15 896.57 324.5 895.1 C328.85 893.63 332.62 890.88 337 889.6 C341.38 888.32 346.63 888.07 350.8 887.4 C354.97 886.73 358.53 886.37 362 885.6 C365.47 884.83 368.6 884.18 371.6 882.8 C374.6 881.42 377.45 878.97 380 877.3 C382.55 875.63 384.23 874.63 386.9 872.8 C389.57 870.97 392.72 868.65 396 866.3 C399.28 863.95 403.1 861.12 406.6 858.7 C410.1 856.28 413.43 854.02 417 851.8 C420.57 849.58 425 847.53 428 845.4 C431 843.27 432.78 841.22 435 839 C437.22 836.78 438.2 835.47 441.3 832.1 C444.4 828.73 450.48 822.38 453.6 818.8 C456.72 815.22 457.97 812.98 460 810.6 C462.03 808.22 464.3 805.93 465.8 804.5 C467.3 803.07 467.97 802.55 469 802 C470.03 801.45 471 801.2 472 801.2 C473 801.2 473.98 801.4 475 802 C476.02 802.6 476.77 802.72 478.1 804.8 C479.43 806.88 481.3 810.63 483 814.5 C484.7 818.37 486.47 823.25 488.3 828 C490.13 832.75 492.13 838.05 494 843 C495.87 847.95 498.58 855.25 499.5 857.7" stroke="#2a7ac8" stroke-width="1.45" stroke-dasharray="5.6 3.4"/>
</g>
<rect x="251.57" y="888.26" width="7.7" height="7.7" fill="#f0323c"/>
<rect x="286.68" y="854.55" width="7.7" height="7.7" fill="#f0323c"/>
<rect x="307.22" y="808.59" width="7.7" height="7.7" fill="#f0323c"/>
<rect x="321.8" y="768.75" width="7.7" height="7.7" fill="#f0323c"/>
<rect x="333.1" y="744.24" width="7.7" height="7.7" fill="#f0323c"/>
<rect x="368.22" y="716.66" width="7.7" height="7.7" fill="#f0323c"/>
<rect x="403.33" y="762.62" width="7.7" height="7.7" fill="#f0323c"/>
<rect x="423.87" y="817.78" width="7.7" height="7.7" fill="#f0323c"/>
<rect x="438.45" y="833.1" width="7.7" height="7.7" fill="#f0323c"/>
<rect x="449.75" y="869.87" width="7.7" height="7.7" fill="#f0323c"/>
<rect x="484.87" y="891.32" width="7.7" height="7.7" fill="#f0323c"/>
<polygon points="311.07,893.36 315.87,902.06 306.27,902.06" fill="#f0323c" />
<polygon points="325.65,890.3 330.45,899 320.85,899" fill="#f0323c" />
<polygon points="336.95,884.17 341.75,892.87 332.15,892.87" fill="#f0323c" />
<polygon points="372.07,881.11 376.87,889.81 367.27,889.81" fill="#f0323c" />
<polygon points="407.18,853.53 411.98,862.23 402.38,862.23" fill="#f0323c" />
<polygon points="427.72,841.27 432.52,849.97 422.92,849.97" fill="#f0323c" />
<polygon points="442.3,825.95 447.1,834.65 437.5,834.65" fill="#f0323c" />
<polygon points="453.6,813.69 458.4,822.39 448.8,822.39" fill="#f0323c" />
<polygon points="474.14,786.11 478.94,794.81 469.34,794.81" fill="#f0323c" />
<polygon points="488.72,822.89 493.52,831.59 483.92,831.59" fill="#f0323c" />
<polygon points="500.02,853.53 504.82,862.23 495.22,862.23" fill="#f0323c" />
<rect x="220.3" y="686.8" width="289.3" height="214.5" fill="none" stroke="#262626" stroke-width="1"/>
<path d="M336.95 901.3v-3M453.6 901.3v-3M255.42 901.3v-1.5M275.96 901.3v-1.5M290.53 901.3v-1.5M301.83 901.3v-1.5M311.07 901.3v-1.5M318.88 901.3v-1.5M325.65 901.3v-1.5M331.61 901.3v-1.5M372.07 901.3v-1.5M392.61 901.3v-1.5M407.18 901.3v-1.5M418.48 901.3v-1.5M427.72 901.3v-1.5M435.53 901.3v-1.5M442.3 901.3v-1.5M448.26 901.3v-1.5M488.72 901.3v-1.5" stroke="#262626" stroke-width="0.9" fill="none"/>
<path d="M220.3 870.66h3M220.3 840.01h3M220.3 809.37h3M220.3 778.73h3M220.3 748.09h3M220.3 717.44h3M220.3 885.98h1.6M220.3 855.34h1.6M220.3 824.69h1.6M220.3 794.05h1.6M220.3 763.41h1.6M220.3 732.76h1.6M220.3 702.12h1.6" stroke="#262626" stroke-width="0.9" fill="none"/>
<text x="220.3" y="920" font-size="14.5" text-anchor="middle" fill="#1a1a1a" >10<tspan font-size="9.8" dy="-7">4</tspan></text>
<text x="336.95" y="920" font-size="14.5" text-anchor="middle" fill="#1a1a1a" >10<tspan font-size="9.8" dy="-7">5</tspan></text>
<text x="453.6" y="920" font-size="14.5" text-anchor="middle" fill="#1a1a1a" >10<tspan font-size="9.8" dy="-7">6</tspan></text>
<text x="216.6" y="905.65" font-size="14.5" text-anchor="end" fill="#1a1a1a" letter-spacing="-0.25">0</text>
<text x="216.6" y="875.01" font-size="14.5" text-anchor="end" fill="#1a1a1a" letter-spacing="-0.25">10</text>
<text x="216.6" y="844.36" font-size="14.5" text-anchor="end" fill="#1a1a1a" letter-spacing="-0.25">20</text>
<text x="216.6" y="813.72" font-size="14.5" text-anchor="end" fill="#1a1a1a" letter-spacing="-0.25">30</text>
<text x="216.6" y="783.08" font-size="14.5" text-anchor="end" fill="#1a1a1a" letter-spacing="-0.25">40</text>
<text x="216.6" y="752.44" font-size="14.5" text-anchor="end" fill="#1a1a1a" letter-spacing="-0.25">50</text>
<text x="216.6" y="721.79" font-size="14.5" text-anchor="end" fill="#1a1a1a" letter-spacing="-0.25">60</text>
<text x="216.6" y="691.15" font-size="14.5" text-anchor="end" fill="#1a1a1a" letter-spacing="-0.25">70</text>
<text transform="translate(189 794.8) rotate(-90)" font-size="17.7" text-anchor="middle" fill="#1a1a1a">Filed-Effect Mobility (cm<tspan font-size="12" dy="-6.4">2</tspan><tspan dy="6.4">/V.s)</tspan></text>
<text x="360.2" y="943.8" font-size="17.7" text-anchor="middle" fill="#1a1a1a" >Effective Electric Field (V/cm)</text>
<path d="M235.1 710.7H263.2" stroke="#2a7ac8" stroke-width="1.4" fill="none"/>
<path d="M235.1 725.3H263.2" stroke="#2a7ac8" stroke-width="1.5" stroke-dasharray="4.6 3.2" fill="none"/>
<rect x="245.55" y="706.85" width="7.7" height="7.7" fill="#f0323c"/>
<polygon points="249.4,720.13 254.2,728.83 244.6,728.83" fill="#f0323c" />
<text x="266.4" y="715" font-size="12.3" text-anchor="start" fill="#1a1a1a" >Top Gate</text>
<text x="266.4" y="729.6" font-size="12.2" text-anchor="start" fill="#1a1a1a" >Back Gate</text>
<text x="452.1" y="720.5" font-size="12.6" text-anchor="start" fill="#1a1a1a" ><tspan font-style="italic">T</tspan>=25<tspan font-size="6.6" dy="-3.6" dx="0.3">o</tspan><tspan dy="3.6" dx="0.3">C</tspan></text>
</g>
<text x="15" y="134.9" font-size="18.8" text-anchor="start" fill="#1a1a1a" >(a)</text>
<text x="367" y="134.6" font-size="18.8" text-anchor="start" fill="#1a1a1a" >(b)</text>
<text x="13" y="404" font-size="18.8" text-anchor="start" fill="#1a1a1a" >(c)</text>
<text x="369" y="404" font-size="18.8" text-anchor="start" fill="#1a1a1a" >(d)</text>
<text x="19" y="665.4" font-size="18.8" text-anchor="start" fill="#1a1a1a" >(e)</text>
<text x="365.3" y="666.5" font-size="18.8" text-anchor="start" fill="#1a1a1a" >(f)</text>
<text x="186" y="943.4" font-size="18.8" text-anchor="start" fill="#1a1a1a" >(g)</text>
</svg>
</body>
</html>
